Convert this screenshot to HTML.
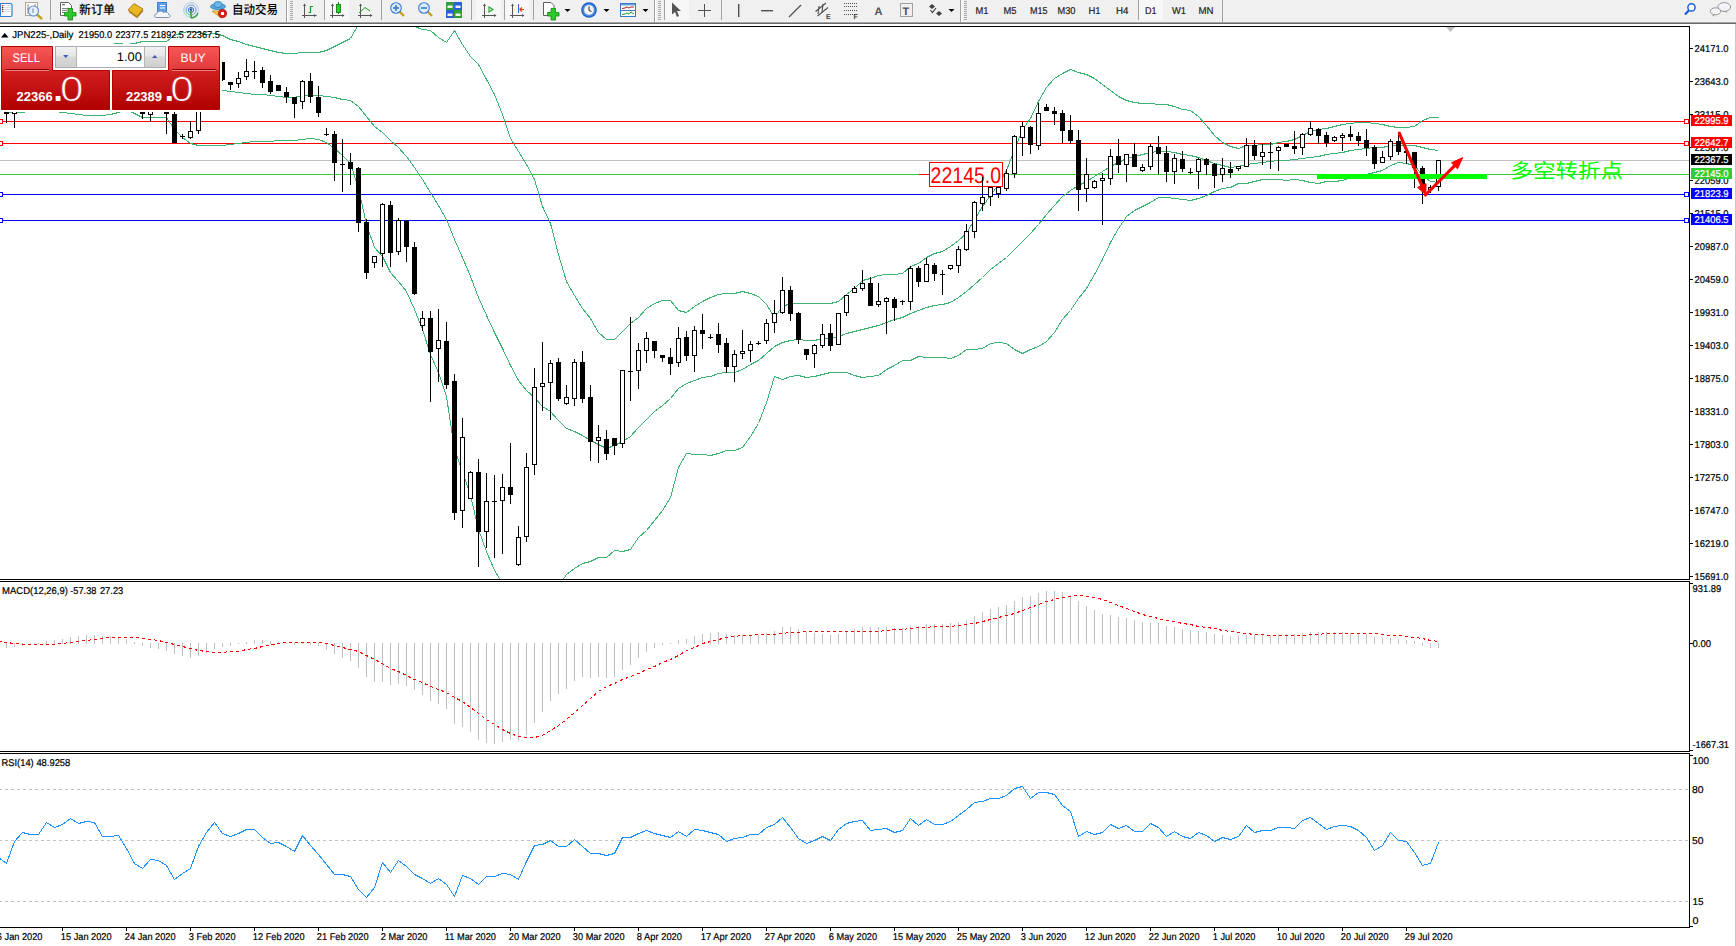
<!DOCTYPE html>
<html><head><meta charset="utf-8"><title>JPN225 Daily</title>
<style>
html,body{margin:0;padding:0;width:1736px;height:946px;overflow:hidden;background:#fff}
svg{display:block}
text{font-family:"Liberation Sans", "Noto Sans CJK SC", sans-serif}
</style></head><body>
<svg width="1736" height="946" viewBox="0 0 1736 946" text-rendering="geometricPrecision">
<defs><clipPath id="clipMain"><rect x="0" y="27" width="1689" height="552"/></clipPath></defs>
<rect x="0" y="0" width="1736" height="946" fill="#fff"/>
<rect x="0" y="0" width="1736" height="22" fill="#f0f0f0"/>
<rect x="0" y="21" width="1736" height="1" fill="#f6f6f6"/>
<rect x="0" y="22" width="1736" height="1" fill="#a2a2a2"/>
<rect x="0" y="23" width="1736" height="1" fill="#6c6c6c"/>
<rect x="-0.5" y="3.5" width="12.5" height="13" rx="1.5" fill="#fff" stroke="#3c7bc9" stroke-width="1.2"/>
<rect x="0" y="4" width="1" height="12" fill="#3c7bc9"/>
<circle cx="2.6" cy="5.5" r="0.8" fill="#ff2020"/>
<rect x="4" y="5.1" width="7.5" height="0.8" fill="#c8d8f0"/>
<circle cx="2.6" cy="7.5" r="0.8" fill="#202020"/>
<rect x="4" y="7.1" width="7.5" height="0.8" fill="#c8d8f0"/>
<circle cx="2.6" cy="9.5" r="0.8" fill="#202020"/>
<rect x="4" y="9.1" width="7.5" height="0.8" fill="#c8d8f0"/>
<circle cx="2.6" cy="11.5" r="0.8" fill="#ff2020"/>
<rect x="4" y="11.1" width="7.5" height="0.8" fill="#c8d8f0"/>
<rect x="25.5" y="2.5" width="12" height="13" fill="#fff" stroke="#b0a890" stroke-width="1"/>
<path d="M28,4 V14 M27,9 H31 M35,4 V10" stroke="#888" stroke-width="1" fill="none"/>
<line x1="37" y1="14.5" x2="42" y2="19" stroke="#c8a020" stroke-width="2.4"/>
<circle cx="33.5" cy="11" r="5" fill="#e8f4fc" fill-opacity="0.9" stroke="#5a90d8" stroke-width="1.1"/>
<rect x="32" y="8.5" width="2" height="4.5" fill="#a8b8c8"/>
<rect x="50" y="0" width="1" height="20" fill="#a0a0a0"/>
<path d="M60.5,2.5 H68.5 L71.5,5.5 V15.5 H60.5 Z" fill="#fff" stroke="#606060" stroke-width="1"/>
<rect x="62" y="4" width="3" height="1.3" fill="#707070"/><rect x="62" y="8" width="6" height="0.9" fill="#707070"/><rect x="62" y="10" width="5" height="0.9" fill="#707070"/><rect x="62" y="12" width="3" height="0.9" fill="#707070"/>
<path d="M68,8.5 H72.5 V12.5 H76 V16 H72.5 V20 H68 V16 H64.5 V12.5 H68 Z" fill="#2ec82e" stroke="#0a8a0a" stroke-width="0.8"/>
<text x="79" y="14" font-size="12.5" fill="#000" font-weight="500" font-family="'Liberation Sans', 'Noto Sans CJK SC', 'WenQuanYi Zen Hei', sans-serif" textLength="36" lengthAdjust="spacingAndGlyphs">新订单</text>
<path d="M128,10 L134,3.5 L143,9 L137,16.5 Z" fill="#e8b820" stroke="#9a6a10" stroke-width="0.8"/>
<path d="M129,11.5 L137,17.5 L143,10.5" fill="none" stroke="#b07818" stroke-width="1.2"/>
<rect x="157.5" y="2.5" width="9" height="10" fill="#5aa0e8" stroke="#2a70c0" stroke-width="0.8"/>
<rect x="160" y="5" width="5" height="1" fill="#fff"/><rect x="160" y="7.5" width="5" height="1" fill="#fff"/>
<path d="M156,17.5 C154,17.5 154,13.5 157,13.5 C157.5,10.5 162.5,10.5 163.5,12.5 C165.5,11 169,12.5 168.5,14.5 C171,15 170.5,17.5 168.5,17.5 Z" fill="#f4f6fa" stroke="#7088b0" stroke-width="0.9"/>
<circle cx="191" cy="10" r="7.3" fill="none" stroke="#a8c8e8" stroke-width="1"/>
<circle cx="191" cy="10" r="5" fill="none" stroke="#6a9ad8" stroke-width="1"/>
<circle cx="191" cy="10" r="2.6" fill="none" stroke="#3a6ac8" stroke-width="1"/>
<path d="M191,10 V18 M191,18 A8,8 0 0 0 198,13" stroke="#30a030" stroke-width="1.4" fill="none"/>
<circle cx="191" cy="9.5" r="1.3" fill="#2a5ac0"/>
<path d="M212,11 L221,18 L226,11 Z" fill="#f0d040" stroke="#b09020" stroke-width="0.8"/>
<ellipse cx="218" cy="6.5" rx="7.5" ry="3" fill="#58a8e0" stroke="#2a78b8" stroke-width="0.8"/>
<ellipse cx="218" cy="4.5" rx="4" ry="3" fill="#70b8ea" stroke="#2a78b8" stroke-width="0.8"/>
<circle cx="222.5" cy="13.5" r="4.2" fill="#d82020" stroke="#a01010" stroke-width="0.6"/>
<rect x="221" y="12" width="3" height="3" fill="#fff"/>
<text x="232" y="14" font-size="12.5" fill="#000" font-weight="500" font-family="'Liberation Sans', 'Noto Sans CJK SC', 'WenQuanYi Zen Hei', sans-serif" textLength="46" lengthAdjust="spacingAndGlyphs">自动交易</text>
<rect x="286" y="0" width="1" height="22" fill="#a0a0a0"/><rect x="287" y="0" width="1" height="22" fill="#ffffff"/>
<rect x="290" y="1" width="3" height="1" fill="#a8a8a8"/><rect x="290" y="3" width="3" height="1" fill="#a8a8a8"/><rect x="290" y="5" width="3" height="1" fill="#a8a8a8"/><rect x="290" y="7" width="3" height="1" fill="#a8a8a8"/><rect x="290" y="9" width="3" height="1" fill="#a8a8a8"/><rect x="290" y="11" width="3" height="1" fill="#a8a8a8"/><rect x="290" y="13" width="3" height="1" fill="#a8a8a8"/><rect x="290" y="15" width="3" height="1" fill="#a8a8a8"/><rect x="290" y="17" width="3" height="1" fill="#a8a8a8"/><rect x="290" y="19" width="3" height="1" fill="#a8a8a8"/>
<path d="M304.5,4 V18 M302,15.5 H316" stroke="#555" stroke-width="1" fill="none"/>
<path d="M314.5,15.5 L316.5,15.5" stroke="#555"/>
<polygon points="304.5,3.5 303,6 306,6" fill="#555"/><polygon points="316.5,15.5 314,14 314,17" fill="#555"/>
<path d="M310.5,6 V13 M310.5,6.5 H313 M308.5,12.5 H310.5" stroke="#1a9a1a" stroke-width="1.2" fill="none"/>
<rect x="324" y="0" width="1" height="20" fill="#a0a0a0"/>
<rect x="325" y="0" width="24" height="20" fill="#f7f7f7"/>
<path d="M332.5,4 V18 M330,15.5 H344" stroke="#555" stroke-width="1" fill="none"/>
<polygon points="332.5,3.5 331,6 334,6" fill="#555"/><polygon points="344.5,15.5 342,14 342,17" fill="#555"/>
<rect x="336.5" y="4.5" width="4" height="8" fill="#30d030" stroke="#108010" stroke-width="0.9"/>
<path d="M338.5,2 V4.5 M338.5,12.5 V14" stroke="#108010" stroke-width="1"/>
<path d="M360.5,4 V18 M358,15.5 H372" stroke="#555" stroke-width="1" fill="none"/>
<polygon points="360.5,3.5 359,6 362,6" fill="#555"/><polygon points="372.5,15.5 370,14 370,17" fill="#555"/>
<path d="M359,13 L365,7.5 L370,11" stroke="#20a020" stroke-width="1" fill="none"/>
<rect x="381" y="0" width="1" height="20" fill="#a0a0a0"/>
<line x1="399.5" y1="11.5" x2="404" y2="16" stroke="#c8a020" stroke-width="2.4"/>
<circle cx="396" cy="8" r="5.3" fill="#dcecfa" stroke="#3a78d0" stroke-width="1.1"/>
<rect x="393" y="7.2" width="6" height="1.6" fill="#3a78c0"/>
<rect x="395.2" y="5" width="1.6" height="6" fill="#3a78c0"/>
<line x1="427.5" y1="11.5" x2="432" y2="16" stroke="#c8a020" stroke-width="2.4"/>
<circle cx="424" cy="8" r="5.3" fill="#dcecfa" stroke="#3a78d0" stroke-width="1.1"/>
<rect x="421" y="7.2" width="6" height="1.6" fill="#3a78c0"/>
<rect x="446" y="2" width="8" height="8" fill="#30a030"/>
<rect x="447.5" y="5.5" width="5" height="2.5" fill="#f0f0f0"/>
<rect x="454" y="2" width="8" height="8" fill="#2a60d0"/>
<rect x="455.5" y="5.5" width="5" height="2.5" fill="#f0f0f0"/>
<rect x="446" y="10" width="8" height="8" fill="#2a60d0"/>
<rect x="447.5" y="13.5" width="5" height="2.5" fill="#f0f0f0"/>
<rect x="454" y="10" width="8" height="8" fill="#30a030"/>
<rect x="455.5" y="13.5" width="5" height="2.5" fill="#f0f0f0"/>
<rect x="471" y="0" width="1" height="20" fill="#a0a0a0"/>
<rect x="476" y="0" width="25" height="20" fill="#f7f7f7"/>
<path d="M484.5,4 V18 M482,15.5 H496" stroke="#555" stroke-width="1" fill="none"/>
<polygon points="484.5,3.5 483,6 486,6" fill="#555"/><polygon points="496.5,15.5 494,14 494,17" fill="#555"/>
<polygon points="489,7 493,9.5 489,12" fill="none" stroke="#20a020" stroke-width="1.1"/>
<rect x="504" y="0" width="1" height="20" fill="#a0a0a0"/>
<rect x="505" y="0" width="24" height="20" fill="#f7f7f7"/>
<path d="M512.5,4 V18 M510,15.5 H524" stroke="#555" stroke-width="1" fill="none"/>
<polygon points="512.5,3.5 511,6 514,6" fill="#555"/><polygon points="524.5,15.5 522,14 522,17" fill="#555"/>
<rect x="518" y="4" width="1" height="9" fill="#2a70c0"/>
<path d="M519.5,9.5 H524 M519.5,9.5 L522,7.5 M519.5,9.5 L522,11.5" stroke="#e04010" stroke-width="1.2" fill="none"/>
<rect x="533" y="0" width="1" height="20" fill="#a0a0a0"/>
<path d="M543.5,2.5 H551 L554,5.5 V15.5 H543.5 Z" fill="#fff" stroke="#606060" stroke-width="1"/>
<path d="M551,8.5 H555.5 V12.5 H559 V16 H555.5 V20 H551 V16 H547.5 V12.5 H551 Z" fill="#2ec82e" stroke="#0a8a0a" stroke-width="0.8"/>
<polygon points="564.5,9 570.5,9 567.5,12" fill="#000"/>
<circle cx="589" cy="10" r="7.8" fill="#1a5cc4"/>
<circle cx="589" cy="10" r="6.6" fill="#3f8ae6"/>
<circle cx="589" cy="10" r="5.0" fill="#f6f6f6" stroke="#9ab" stroke-width="0.4"/>
<path d="M589,6.5 V10.5 L591.5,11.5" stroke="#222" stroke-width="1" fill="none"/>
<polygon points="603.5,9 609.5,9 606.5,12" fill="#000"/>
<rect x="620.5" y="3.5" width="15" height="13" fill="#fff" stroke="#3a78c8" stroke-width="1"/>
<rect x="621" y="4" width="14" height="1.5" fill="#6aa0e0"/><rect x="621" y="10" width="14" height="1" fill="#3a78c8"/>
<path d="M622,8.5 L625,8 L627,7 L629,8 L631,7 L634,7" stroke="#b02020" stroke-width="1" fill="none"/>
<path d="M622,14.5 L625,14 L627,13 L629,14 L631,12 L634,14" stroke="#20a020" stroke-width="1" fill="none"/>
<polygon points="642.5,9 648.5,9 645.5,12" fill="#000"/>
<rect x="654" y="0" width="1" height="22" fill="#a0a0a0"/><rect x="655" y="0" width="1" height="22" fill="#ffffff"/>
<rect x="658" y="1" width="3" height="1" fill="#a8a8a8"/><rect x="658" y="3" width="3" height="1" fill="#a8a8a8"/><rect x="658" y="5" width="3" height="1" fill="#a8a8a8"/><rect x="658" y="7" width="3" height="1" fill="#a8a8a8"/><rect x="658" y="9" width="3" height="1" fill="#a8a8a8"/><rect x="658" y="11" width="3" height="1" fill="#a8a8a8"/><rect x="658" y="13" width="3" height="1" fill="#a8a8a8"/><rect x="658" y="15" width="3" height="1" fill="#a8a8a8"/><rect x="658" y="17" width="3" height="1" fill="#a8a8a8"/><rect x="658" y="19" width="3" height="1" fill="#a8a8a8"/>
<rect x="664" y="0" width="1" height="20" fill="#a0a0a0"/>
<rect x="665" y="0" width="24" height="20" fill="#f7f7f7"/>
<polygon points="672,2.5 672,14.5 675,12 677,17 679,16 677,11 681,11" fill="#555"/>
<path d="M704.5,4 V17 M698,10.5 H711" stroke="#505050" stroke-width="1" fill="none"/>
<rect x="721" y="0" width="1" height="20" fill="#a0a0a0"/>
<rect x="738" y="4" width="1.4" height="13" fill="#505050"/>
<rect x="761" y="10" width="12" height="1.4" fill="#505050"/>
<line x1="789" y1="17" x2="801" y2="5" stroke="#505050" stroke-width="1.2"/>
<path d="M815.5,11.5 L826,3 M817.5,16 L828,7.5 M819,6 L818,14 M823,4 L822,12" stroke="#505050" stroke-width="1.1" fill="none"/>
<text x="826" y="19" font-size="7" font-weight="bold" fill="#404040">E</text>
<line x1="844" y1="3.5" x2="857" y2="3.5" stroke="#505050" stroke-width="1" stroke-dasharray="1,1"/>
<line x1="844" y1="6.5" x2="857" y2="6.5" stroke="#505050" stroke-width="1" stroke-dasharray="1,1"/>
<line x1="844" y1="10.5" x2="857" y2="10.5" stroke="#505050" stroke-width="1" stroke-dasharray="1,1"/>
<line x1="844" y1="14.5" x2="857" y2="14.5" stroke="#505050" stroke-width="1" stroke-dasharray="1,1"/>
<text x="853.5" y="19" font-size="7" font-weight="bold" fill="#404040">F</text>
<text x="874.5" y="14.5" font-size="11" font-weight="bold" fill="#505050">A</text>
<rect x="900.5" y="3.5" width="12" height="13" fill="none" stroke="#505050" stroke-width="1" stroke-dasharray="1,1"/>
<text x="902.5" y="14.5" font-size="11" font-weight="bold" fill="#505050">T</text>
<polygon points="932,4 935,6.5 932,9 929,6.5" fill="#404040"/><polygon points="939,11 942,13.5 939,16 936,13.5" fill="#404040"/>
<path d="M930.5,10 L932.5,12.5 L936,8" stroke="#404040" stroke-width="1.2" fill="none"/>
<polygon points="948.5,9 954.5,9 951.5,12" fill="#000"/>
<rect x="960" y="0" width="1" height="22" fill="#a0a0a0"/><rect x="961" y="0" width="1" height="22" fill="#ffffff"/>
<rect x="964" y="1" width="3" height="1" fill="#a8a8a8"/><rect x="964" y="3" width="3" height="1" fill="#a8a8a8"/><rect x="964" y="5" width="3" height="1" fill="#a8a8a8"/><rect x="964" y="7" width="3" height="1" fill="#a8a8a8"/><rect x="964" y="9" width="3" height="1" fill="#a8a8a8"/><rect x="964" y="11" width="3" height="1" fill="#a8a8a8"/><rect x="964" y="13" width="3" height="1" fill="#a8a8a8"/><rect x="964" y="15" width="3" height="1" fill="#a8a8a8"/><rect x="964" y="17" width="3" height="1" fill="#a8a8a8"/><rect x="964" y="19" width="3" height="1" fill="#a8a8a8"/>
<rect x="1139" y="0" width="24" height="20" fill="#f7f7f7"/>
<rect x="1138" y="0" width="1" height="20" fill="#a0a0a0"/>
<text x="975.5" y="14" font-size="10" fill="#222" stroke="#222" stroke-width="0.2" textLength="13.0" lengthAdjust="spacingAndGlyphs">M1</text>
<text x="1003.5" y="14" font-size="10" fill="#222" stroke="#222" stroke-width="0.2" textLength="13.0" lengthAdjust="spacingAndGlyphs">M5</text>
<text x="1030" y="14" font-size="10" fill="#222" stroke="#222" stroke-width="0.2" textLength="17.5" lengthAdjust="spacingAndGlyphs">M15</text>
<text x="1057.5" y="14" font-size="10" fill="#222" stroke="#222" stroke-width="0.2" textLength="18.0" lengthAdjust="spacingAndGlyphs">M30</text>
<text x="1088.5" y="14" font-size="10" fill="#222" stroke="#222" stroke-width="0.2" textLength="12.0" lengthAdjust="spacingAndGlyphs">H1</text>
<text x="1116" y="14" font-size="10" fill="#222" stroke="#222" stroke-width="0.2" textLength="12.5" lengthAdjust="spacingAndGlyphs">H4</text>
<text x="1145" y="14" font-size="10" fill="#222" stroke="#222" stroke-width="0.2" textLength="11.5" lengthAdjust="spacingAndGlyphs">D1</text>
<text x="1172" y="14" font-size="10" fill="#222" stroke="#222" stroke-width="0.2" textLength="14.0" lengthAdjust="spacingAndGlyphs">W1</text>
<text x="1198.5" y="14" font-size="10" fill="#222" stroke="#222" stroke-width="0.2" textLength="15.0" lengthAdjust="spacingAndGlyphs">MN</text>
<rect x="1222" y="0" width="1" height="22" fill="#a0a0a0"/>
<circle cx="1691.5" cy="7.4" r="3.6" fill="#fff" stroke="#1d5fd8" stroke-width="1.5"/>
<line x1="1689" y1="10.2" x2="1685" y2="14.5" stroke="#1d5fd8" stroke-width="2.2"/>
<ellipse cx="1724.2" cy="7" rx="6.4" ry="4.4" fill="#f4f4f8" stroke="#8a8a8a" stroke-width="0.9"/>
<path d="M1726,11 L1727,13 L1724,11.3" fill="#8a8a8a"/>
<ellipse cx="1715.5" cy="11.3" rx="5.2" ry="3.5" fill="#f4f4f8" stroke="#8a8a8a" stroke-width="0.9"/>
<path d="M1713,14.5 L1712.5,16.5 L1715,14.7" fill="#8a8a8a"/>
<rect x="1735" y="24" width="1" height="922" fill="#c8c8c8"/>
<g shape-rendering="crispEdges"><rect x="0" y="160" width="1689" height="1" fill="#c0c0c0"/><rect x="0" y="174" width="1689" height="1" fill="#33cc33"/><rect x="0" y="121" width="1689" height="1" fill="#ff0000"/><rect x="0" y="143" width="1689" height="1" fill="#ff0000"/><rect x="0" y="194" width="1689" height="1" fill="#0000ff"/><rect x="0" y="220" width="1689" height="1" fill="#0000ff"/><rect x="-1.5" y="119.5" width="4" height="4" fill="#fff" stroke="#ff0000" stroke-width="1"/><rect x="1684.5" y="119.5" width="4" height="4" fill="#fff" stroke="#ff0000" stroke-width="1"/><rect x="-1.5" y="141.5" width="4" height="4" fill="#fff" stroke="#ff0000" stroke-width="1"/><rect x="1684.5" y="141.5" width="4" height="4" fill="#fff" stroke="#ff0000" stroke-width="1"/><rect x="-1.5" y="192.5" width="4" height="4" fill="#fff" stroke="#0000ff" stroke-width="1"/><rect x="1684.5" y="192.5" width="4" height="4" fill="#fff" stroke="#0000ff" stroke-width="1"/><rect x="-1.5" y="218.5" width="4" height="4" fill="#fff" stroke="#0000ff" stroke-width="1"/><rect x="1684.5" y="218.5" width="4" height="4" fill="#fff" stroke="#0000ff" stroke-width="1"/><rect x="919" y="174" width="10" height="1" fill="#ff0000"/><g clip-path="url(#clipMain)"><polyline points="6.5,56.5 14.5,59.5 22.5,59.5 30.5,58.5 38.5,59.5 46.5,56.5 54.5,55.5 62.5,54.5 70.5,50.5 78.5,48.5 86.5,47.5 94.5,45.5 102.5,45.5 110.5,44.5 118.5,43.5 126.5,44.5 134.5,43.5 142.5,41.5 150.5,41.5 158.5,41.5 166.5,41.5 174.5,35.5 182.5,32.5 190.5,31.5 198.5,32.5 206.5,34.5 214.5,33.5 222.5,35.5 230.5,39.5 238.5,41.5 246.5,44.5 254.5,46.5 262.5,48.5 270.5,50.5 278.5,52.5 286.5,53.5 294.5,53.5 302.5,52.5 310.5,52.5 318.5,52.5 326.5,50.5 334.5,46.5 342.5,42.5 350.5,38.5 358.5,24.5 366.5,8.5 374.5,4.5 382.5,8.5 390.5,8.5 398.5,14.5 406.5,21.5 414.5,26.5 422.5,29.5 430.5,30.5 438.5,37.5 446.5,42.5 454.5,30.5 462.5,44.5 470.5,56.5 478.5,64.5 486.5,79.5 494.5,94.5 502.5,114.5 510.5,138.5 518.5,151.5 526.5,164.5 534.5,179.5 542.5,206.5 550.5,223.5 558.5,254.5 566.5,281.5 574.5,295.5 582.5,308.5 590.5,318.5 598.5,332.5 606.5,339.5 614.5,339.5 622.5,331.5 630.5,323.5 638.5,317.5 646.5,308.5 654.5,303.5 662.5,300.5 670.5,300.5 678.5,310.5 686.5,312.5 694.5,306.5 702.5,301.5 710.5,297.5 718.5,294.5 726.5,293.5 734.5,293.5 742.5,291.5 750.5,293.5 758.5,296.5 766.5,304.5 774.5,317.5 782.5,306.5 790.5,303.5 798.5,303.5 806.5,303.5 814.5,303.5 822.5,303.5 830.5,303.5 838.5,301.5 846.5,294.5 854.5,288.5 862.5,280.5 870.5,278.5 878.5,275.5 886.5,274.5 894.5,274.5 902.5,273.5 910.5,266.5 918.5,263.5 926.5,257.5 934.5,253.5 942.5,251.5 950.5,246.5 958.5,240.5 966.5,233.5 974.5,219.5 982.5,206.5 990.5,195.5 998.5,184.5 1006.5,170.5 1014.5,149.5 1022.5,129.5 1030.5,118.5 1038.5,101.5 1046.5,87.5 1054.5,78.5 1062.5,73.5 1070.5,69.5 1078.5,72.5 1086.5,74.5 1094.5,78.5 1102.5,84.5 1110.5,90.5 1118.5,96.5 1126.5,100.5 1134.5,102.5 1142.5,103.5 1150.5,103.5 1158.5,104.5 1166.5,104.5 1174.5,106.5 1182.5,109.5 1190.5,110.5 1198.5,116.5 1206.5,125.5 1214.5,135.5 1222.5,142.5 1230.5,146.5 1238.5,148.5 1246.5,145.5 1254.5,145.5 1262.5,144.5 1270.5,144.5 1278.5,142.5 1286.5,141.5 1294.5,139.5 1302.5,135.5 1310.5,131.5 1318.5,129.5 1326.5,128.5 1334.5,126.5 1342.5,124.5 1350.5,123.5 1358.5,122.5 1366.5,122.5 1374.5,123.5 1382.5,124.5 1390.5,126.5 1398.5,127.5 1406.5,127.5 1414.5,126.5 1422.5,120.5 1430.5,117.5 1438.5,117.5" fill="none" stroke="#3cb371" stroke-width="1"/><polyline points="6.5,84.5 14.5,85.5 22.5,85.5 30.5,84.5 38.5,84.5 46.5,84.5 54.5,83.5 62.5,83.5 70.5,82.5 78.5,81.5 86.5,81.5 94.5,80.5 102.5,80.5 110.5,79.5 118.5,78.5 126.5,77.5 134.5,78.5 142.5,79.5 150.5,79.5 158.5,79.5 166.5,79.5 174.5,82.5 182.5,85.5 190.5,87.5 198.5,88.5 206.5,89.5 214.5,89.5 222.5,90.5 230.5,91.5 238.5,92.5 246.5,93.5 254.5,94.5 262.5,94.5 270.5,95.5 278.5,96.5 286.5,97.5 294.5,97.5 302.5,95.5 310.5,95.5 318.5,95.5 326.5,96.5 334.5,97.5 342.5,99.5 350.5,100.5 358.5,106.5 366.5,116.5 374.5,126.5 382.5,132.5 390.5,140.5 398.5,147.5 406.5,156.5 414.5,167.5 422.5,179.5 430.5,192.5 438.5,205.5 446.5,219.5 454.5,239.5 462.5,257.5 470.5,276.5 478.5,297.5 486.5,315.5 494.5,332.5 502.5,348.5 510.5,365.5 518.5,380.5 526.5,390.5 534.5,397.5 542.5,406.5 550.5,411.5 558.5,420.5 566.5,428.5 574.5,431.5 582.5,435.5 590.5,440.5 598.5,444.5 606.5,448.5 614.5,445.5 622.5,441.5 630.5,436.5 638.5,427.5 646.5,419.5 654.5,411.5 662.5,405.5 670.5,398.5 678.5,388.5 686.5,383.5 694.5,380.5 702.5,377.5 710.5,376.5 718.5,373.5 726.5,372.5 734.5,372.5 742.5,369.5 750.5,364.5 758.5,360.5 766.5,353.5 774.5,346.5 782.5,342.5 790.5,340.5 798.5,339.5 806.5,340.5 814.5,340.5 822.5,338.5 830.5,338.5 838.5,336.5 846.5,333.5 854.5,331.5 862.5,329.5 870.5,327.5 878.5,325.5 886.5,322.5 894.5,319.5 902.5,317.5 910.5,313.5 918.5,310.5 926.5,307.5 934.5,305.5 942.5,304.5 950.5,302.5 958.5,297.5 966.5,291.5 974.5,284.5 982.5,277.5 990.5,269.5 998.5,263.5 1006.5,257.5 1014.5,249.5 1022.5,241.5 1030.5,233.5 1038.5,224.5 1046.5,214.5 1054.5,205.5 1062.5,196.5 1070.5,190.5 1078.5,185.5 1086.5,181.5 1094.5,176.5 1102.5,171.5 1110.5,166.5 1118.5,162.5 1126.5,158.5 1134.5,156.5 1142.5,154.5 1150.5,152.5 1158.5,151.5 1166.5,151.5 1174.5,152.5 1182.5,154.5 1190.5,155.5 1198.5,157.5 1206.5,160.5 1214.5,163.5 1222.5,165.5 1230.5,167.5 1238.5,166.5 1246.5,164.5 1254.5,163.5 1262.5,162.5 1270.5,161.5 1278.5,160.5 1286.5,160.5 1294.5,159.5 1302.5,158.5 1310.5,157.5 1318.5,156.5 1326.5,154.5 1334.5,153.5 1342.5,152.5 1350.5,150.5 1358.5,149.5 1366.5,148.5 1374.5,147.5 1382.5,147.5 1390.5,145.5 1398.5,145.5 1406.5,145.5 1414.5,145.5 1422.5,147.5 1430.5,149.5 1438.5,150.5" fill="none" stroke="#3cb371" stroke-width="1"/><polyline points="6.5,112.5 14.5,112.5 22.5,112.5 30.5,110.5 38.5,110.5 46.5,111.5 54.5,111.5 62.5,112.5 70.5,113.5 78.5,114.5 86.5,115.5 94.5,115.5 102.5,115.5 110.5,114.5 118.5,112.5 126.5,109.5 134.5,113.5 142.5,117.5 150.5,117.5 158.5,117.5 166.5,117.5 174.5,129.5 182.5,137.5 190.5,143.5 198.5,145.5 206.5,145.5 214.5,145.5 222.5,145.5 230.5,144.5 238.5,143.5 246.5,142.5 254.5,141.5 262.5,141.5 270.5,141.5 278.5,140.5 286.5,140.5 294.5,140.5 302.5,139.5 310.5,138.5 318.5,139.5 326.5,142.5 334.5,148.5 342.5,155.5 350.5,163.5 358.5,188.5 366.5,224.5 374.5,247.5 382.5,256.5 390.5,272.5 398.5,281.5 406.5,291.5 414.5,309.5 422.5,329.5 430.5,354.5 438.5,372.5 446.5,396.5 454.5,449.5 462.5,471.5 470.5,495.5 478.5,529.5 486.5,551.5 494.5,570.5 502.5,583.5 510.5,592.5 518.5,609.5 526.5,616.5 534.5,614.5 542.5,605.5 550.5,599.5 558.5,586.5 566.5,574.5 574.5,568.5 582.5,563.5 590.5,561.5 598.5,557.5 606.5,557.5 614.5,550.5 622.5,551.5 630.5,549.5 638.5,537.5 646.5,530.5 654.5,520.5 662.5,510.5 670.5,497.5 678.5,467.5 686.5,453.5 694.5,454.5 702.5,454.5 710.5,455.5 718.5,453.5 726.5,450.5 734.5,450.5 742.5,447.5 750.5,436.5 758.5,423.5 766.5,402.5 774.5,376.5 782.5,379.5 790.5,376.5 798.5,375.5 806.5,377.5 814.5,376.5 822.5,374.5 830.5,372.5 838.5,372.5 846.5,372.5 854.5,375.5 862.5,377.5 870.5,376.5 878.5,375.5 886.5,369.5 894.5,365.5 902.5,360.5 910.5,360.5 918.5,356.5 926.5,357.5 934.5,357.5 942.5,357.5 950.5,358.5 958.5,355.5 966.5,349.5 974.5,349.5 982.5,348.5 990.5,343.5 998.5,342.5 1006.5,343.5 1014.5,349.5 1022.5,353.5 1030.5,349.5 1038.5,346.5 1046.5,341.5 1054.5,332.5 1062.5,319.5 1070.5,310.5 1078.5,298.5 1086.5,288.5 1094.5,274.5 1102.5,259.5 1110.5,242.5 1118.5,228.5 1126.5,216.5 1134.5,210.5 1142.5,206.5 1150.5,202.5 1158.5,197.5 1166.5,197.5 1174.5,198.5 1182.5,199.5 1190.5,200.5 1198.5,198.5 1206.5,195.5 1214.5,191.5 1222.5,188.5 1230.5,187.5 1238.5,183.5 1246.5,183.5 1254.5,181.5 1262.5,179.5 1270.5,179.5 1278.5,179.5 1286.5,180.5 1294.5,179.5 1302.5,180.5 1310.5,182.5 1318.5,183.5 1326.5,181.5 1334.5,181.5 1342.5,180.5 1350.5,177.5 1358.5,176.5 1366.5,174.5 1374.5,172.5 1382.5,170.5 1390.5,165.5 1398.5,162.5 1406.5,163.5 1414.5,165.5 1422.5,175.5 1430.5,181.5 1438.5,182.5" fill="none" stroke="#3cb371" stroke-width="1"/></g><rect x="929.5" y="162.5" width="73" height="24" fill="#fff" stroke="#ff0000" stroke-width="1"/><text x="930.6" y="183" font-size="22.4" fill="#ff0000" textLength="70.5" lengthAdjust="spacingAndGlyphs">22145.0</text><rect x="6" y="100" width="1" height="23" fill="#000"/><rect x="4" y="105" width="5" height="9" fill="#000"/><rect x="14" y="86" width="1" height="42" fill="#000"/><rect x="12" y="90" width="5" height="24" fill="#000"/><rect x="13" y="91" width="3" height="22" fill="#fff"/><rect x="22" y="74" width="1" height="19" fill="#000"/><rect x="20" y="77" width="5" height="14" fill="#000"/><rect x="21" y="78" width="3" height="12" fill="#fff"/><rect x="30" y="75" width="1" height="9" fill="#000"/><rect x="28" y="77" width="5" height="4" fill="#000"/><rect x="38" y="78" width="1" height="5" fill="#000"/><rect x="36" y="80" width="5" height="1" fill="#000"/><rect x="46" y="60" width="1" height="22" fill="#000"/><rect x="44" y="62" width="5" height="19" fill="#000"/><rect x="45" y="63" width="3" height="17" fill="#fff"/><rect x="54" y="60" width="1" height="11" fill="#000"/><rect x="52" y="62" width="5" height="7" fill="#000"/><rect x="62" y="62" width="1" height="9" fill="#000"/><rect x="60" y="64" width="5" height="5" fill="#000"/><rect x="61" y="65" width="3" height="3" fill="#fff"/><rect x="70" y="52" width="1" height="15" fill="#000"/><rect x="68" y="54" width="5" height="11" fill="#000"/><rect x="69" y="55" width="3" height="9" fill="#fff"/><rect x="78" y="53" width="1" height="9" fill="#000"/><rect x="76" y="54" width="5" height="6" fill="#000"/><rect x="86" y="55" width="1" height="6" fill="#000"/><rect x="84" y="57" width="5" height="3" fill="#000"/><rect x="85" y="58" width="3" height="1" fill="#fff"/><rect x="94" y="55" width="1" height="6" fill="#000"/><rect x="92" y="57" width="5" height="1" fill="#000"/><rect x="102" y="56" width="1" height="18" fill="#000"/><rect x="100" y="57" width="5" height="15" fill="#000"/><rect x="110" y="69" width="1" height="5" fill="#000"/><rect x="108" y="71" width="5" height="1" fill="#000"/><rect x="118" y="68" width="1" height="5" fill="#000"/><rect x="116" y="70" width="5" height="2" fill="#000"/><rect x="126" y="70" width="1" height="16" fill="#000"/><rect x="124" y="71" width="5" height="13" fill="#000"/><rect x="134" y="82" width="1" height="23" fill="#000"/><rect x="132" y="83" width="5" height="21" fill="#000"/><rect x="142" y="101" width="1" height="18" fill="#000"/><rect x="140" y="103" width="5" height="11" fill="#000"/><rect x="150" y="100" width="1" height="22" fill="#000"/><rect x="148" y="105" width="5" height="10" fill="#000"/><rect x="149" y="106" width="3" height="8" fill="#fff"/><rect x="158" y="102" width="1" height="6" fill="#000"/><rect x="156" y="105" width="5" height="1" fill="#000"/><rect x="166" y="103" width="1" height="31" fill="#000"/><rect x="164" y="105" width="5" height="9" fill="#000"/><rect x="174" y="110" width="1" height="33" fill="#000"/><rect x="172" y="114" width="5" height="29" fill="#000"/><rect x="182" y="134" width="1" height="5" fill="#000"/><rect x="180" y="136" width="5" height="1" fill="#000"/><rect x="190" y="121" width="1" height="18" fill="#000"/><rect x="188" y="131" width="5" height="7" fill="#000"/><rect x="189" y="132" width="3" height="5" fill="#fff"/><rect x="198" y="100" width="1" height="34" fill="#000"/><rect x="196" y="104" width="5" height="27" fill="#000"/><rect x="197" y="105" width="3" height="25" fill="#fff"/><rect x="206" y="78" width="1" height="28" fill="#000"/><rect x="204" y="80" width="5" height="24" fill="#000"/><rect x="205" y="81" width="3" height="22" fill="#fff"/><rect x="214" y="58" width="1" height="24" fill="#000"/><rect x="212" y="62" width="5" height="18" fill="#000"/><rect x="213" y="63" width="3" height="16" fill="#fff"/><rect x="222" y="62" width="1" height="19" fill="#000"/><rect x="220" y="62" width="5" height="18" fill="#000"/><rect x="230" y="82" width="1" height="8" fill="#000"/><rect x="228" y="82" width="5" height="3" fill="#000"/><rect x="238" y="72" width="1" height="16" fill="#000"/><rect x="236" y="78" width="5" height="6" fill="#000"/><rect x="237" y="79" width="3" height="4" fill="#fff"/><rect x="246" y="59" width="1" height="21" fill="#000"/><rect x="244" y="71" width="5" height="6" fill="#000"/><rect x="245" y="72" width="3" height="4" fill="#fff"/><rect x="254" y="61" width="1" height="18" fill="#000"/><rect x="252" y="71" width="5" height="1" fill="#000"/><rect x="262" y="67" width="1" height="21" fill="#000"/><rect x="260" y="70" width="5" height="13" fill="#000"/><rect x="270" y="75" width="1" height="19" fill="#000"/><rect x="268" y="81" width="5" height="11" fill="#000"/><rect x="278" y="85" width="1" height="6" fill="#000"/><rect x="276" y="85" width="5" height="6" fill="#000"/><rect x="286" y="87" width="1" height="16" fill="#000"/><rect x="284" y="92" width="5" height="5" fill="#000"/><rect x="294" y="97" width="1" height="21" fill="#000"/><rect x="292" y="97" width="5" height="7" fill="#000"/><rect x="302" y="80" width="1" height="29" fill="#000"/><rect x="300" y="81" width="5" height="21" fill="#000"/><rect x="301" y="82" width="3" height="19" fill="#fff"/><rect x="310" y="73" width="1" height="30" fill="#000"/><rect x="308" y="81" width="5" height="16" fill="#000"/><rect x="318" y="86" width="1" height="31" fill="#000"/><rect x="316" y="97" width="5" height="16" fill="#000"/><rect x="326" y="128" width="1" height="8" fill="#000"/><rect x="324" y="134" width="5" height="1" fill="#000"/><rect x="334" y="131" width="1" height="50" fill="#000"/><rect x="332" y="134" width="5" height="29" fill="#000"/><rect x="342" y="139" width="1" height="53" fill="#000"/><rect x="340" y="164" width="5" height="1" fill="#000"/><rect x="350" y="153" width="1" height="32" fill="#000"/><rect x="348" y="162" width="5" height="7" fill="#000"/><rect x="358" y="167" width="1" height="65" fill="#000"/><rect x="356" y="168" width="5" height="55" fill="#000"/><rect x="366" y="219" width="1" height="60" fill="#000"/><rect x="364" y="222" width="5" height="51" fill="#000"/><rect x="374" y="256" width="1" height="12" fill="#000"/><rect x="372" y="256" width="5" height="7" fill="#000"/><rect x="373" y="257" width="3" height="5" fill="#fff"/><rect x="382" y="203" width="1" height="64" fill="#000"/><rect x="380" y="204" width="5" height="50" fill="#000"/><rect x="381" y="205" width="3" height="48" fill="#fff"/><rect x="390" y="201" width="1" height="66" fill="#000"/><rect x="388" y="205" width="5" height="48" fill="#000"/><rect x="398" y="218" width="1" height="37" fill="#000"/><rect x="396" y="220" width="5" height="32" fill="#000"/><rect x="397" y="221" width="3" height="30" fill="#fff"/><rect x="406" y="220" width="1" height="42" fill="#000"/><rect x="404" y="221" width="5" height="26" fill="#000"/><rect x="414" y="242" width="1" height="53" fill="#000"/><rect x="412" y="247" width="5" height="47" fill="#000"/><rect x="422" y="311" width="1" height="20" fill="#000"/><rect x="420" y="318" width="5" height="8" fill="#000"/><rect x="421" y="319" width="3" height="6" fill="#fff"/><rect x="430" y="311" width="1" height="91" fill="#000"/><rect x="428" y="318" width="5" height="34" fill="#000"/><rect x="438" y="309" width="1" height="73" fill="#000"/><rect x="436" y="340" width="5" height="9" fill="#000"/><rect x="437" y="341" width="3" height="7" fill="#fff"/><rect x="446" y="322" width="1" height="67" fill="#000"/><rect x="444" y="341" width="5" height="44" fill="#000"/><rect x="454" y="374" width="1" height="146" fill="#000"/><rect x="452" y="381" width="5" height="132" fill="#000"/><rect x="462" y="418" width="1" height="110" fill="#000"/><rect x="460" y="437" width="5" height="74" fill="#000"/><rect x="461" y="438" width="3" height="72" fill="#fff"/><rect x="470" y="471" width="1" height="28" fill="#000"/><rect x="468" y="472" width="5" height="27" fill="#000"/><rect x="469" y="473" width="3" height="25" fill="#fff"/><rect x="478" y="459" width="1" height="108" fill="#000"/><rect x="476" y="472" width="5" height="60" fill="#000"/><rect x="486" y="473" width="1" height="75" fill="#000"/><rect x="484" y="501" width="5" height="31" fill="#000"/><rect x="485" y="502" width="3" height="29" fill="#fff"/><rect x="494" y="475" width="1" height="83" fill="#000"/><rect x="492" y="501" width="5" height="1" fill="#000"/><rect x="502" y="474" width="1" height="80" fill="#000"/><rect x="500" y="487" width="5" height="14" fill="#000"/><rect x="501" y="488" width="3" height="12" fill="#fff"/><rect x="510" y="443" width="1" height="61" fill="#000"/><rect x="508" y="487" width="5" height="8" fill="#000"/><rect x="518" y="526" width="1" height="40" fill="#000"/><rect x="516" y="537" width="5" height="28" fill="#000"/><rect x="517" y="538" width="3" height="26" fill="#fff"/><rect x="526" y="453" width="1" height="89" fill="#000"/><rect x="524" y="467" width="5" height="70" fill="#000"/><rect x="525" y="468" width="3" height="68" fill="#fff"/><rect x="534" y="368" width="1" height="107" fill="#000"/><rect x="532" y="387" width="5" height="78" fill="#000"/><rect x="533" y="388" width="3" height="76" fill="#fff"/><rect x="542" y="342" width="1" height="69" fill="#000"/><rect x="540" y="383" width="5" height="4" fill="#000"/><rect x="541" y="384" width="3" height="2" fill="#fff"/><rect x="550" y="360" width="1" height="60" fill="#000"/><rect x="548" y="363" width="5" height="20" fill="#000"/><rect x="549" y="364" width="3" height="18" fill="#fff"/><rect x="558" y="358" width="1" height="43" fill="#000"/><rect x="556" y="362" width="5" height="37" fill="#000"/><rect x="566" y="385" width="1" height="20" fill="#000"/><rect x="564" y="397" width="5" height="7" fill="#000"/><rect x="565" y="398" width="3" height="5" fill="#fff"/><rect x="574" y="359" width="1" height="47" fill="#000"/><rect x="572" y="362" width="5" height="37" fill="#000"/><rect x="573" y="363" width="3" height="35" fill="#fff"/><rect x="582" y="351" width="1" height="52" fill="#000"/><rect x="580" y="362" width="5" height="37" fill="#000"/><rect x="590" y="385" width="1" height="76" fill="#000"/><rect x="588" y="397" width="5" height="45" fill="#000"/><rect x="598" y="425" width="1" height="38" fill="#000"/><rect x="596" y="437" width="5" height="4" fill="#000"/><rect x="597" y="438" width="3" height="2" fill="#fff"/><rect x="606" y="430" width="1" height="30" fill="#000"/><rect x="604" y="439" width="5" height="15" fill="#000"/><rect x="614" y="438" width="1" height="17" fill="#000"/><rect x="612" y="438" width="5" height="8" fill="#000"/><rect x="622" y="370" width="1" height="78" fill="#000"/><rect x="620" y="370" width="5" height="74" fill="#000"/><rect x="621" y="371" width="3" height="72" fill="#fff"/><rect x="630" y="317" width="1" height="84" fill="#000"/><rect x="628" y="371" width="5" height="1" fill="#000"/><rect x="638" y="343" width="1" height="46" fill="#000"/><rect x="636" y="350" width="5" height="21" fill="#000"/><rect x="637" y="351" width="3" height="19" fill="#fff"/><rect x="646" y="332" width="1" height="31" fill="#000"/><rect x="644" y="338" width="5" height="13" fill="#000"/><rect x="645" y="339" width="3" height="11" fill="#fff"/><rect x="654" y="341" width="1" height="17" fill="#000"/><rect x="652" y="341" width="5" height="10" fill="#000"/><rect x="662" y="355" width="1" height="7" fill="#000"/><rect x="660" y="355" width="5" height="3" fill="#000"/><rect x="670" y="348" width="1" height="27" fill="#000"/><rect x="668" y="357" width="5" height="7" fill="#000"/><rect x="678" y="327" width="1" height="40" fill="#000"/><rect x="676" y="338" width="5" height="25" fill="#000"/><rect x="677" y="339" width="3" height="23" fill="#fff"/><rect x="686" y="331" width="1" height="30" fill="#000"/><rect x="684" y="337" width="5" height="19" fill="#000"/><rect x="694" y="326" width="1" height="46" fill="#000"/><rect x="692" y="330" width="5" height="26" fill="#000"/><rect x="693" y="331" width="3" height="24" fill="#fff"/><rect x="702" y="314" width="1" height="35" fill="#000"/><rect x="700" y="330" width="5" height="4" fill="#000"/><rect x="710" y="334" width="1" height="5" fill="#000"/><rect x="708" y="337" width="5" height="1" fill="#000"/><rect x="718" y="323" width="1" height="30" fill="#000"/><rect x="716" y="334" width="5" height="11" fill="#000"/><rect x="726" y="338" width="1" height="35" fill="#000"/><rect x="724" y="343" width="5" height="24" fill="#000"/><rect x="734" y="350" width="1" height="32" fill="#000"/><rect x="732" y="354" width="5" height="13" fill="#000"/><rect x="733" y="355" width="3" height="11" fill="#fff"/><rect x="742" y="330" width="1" height="29" fill="#000"/><rect x="740" y="351" width="5" height="3" fill="#000"/><rect x="741" y="352" width="3" height="1" fill="#fff"/><rect x="750" y="341" width="1" height="21" fill="#000"/><rect x="748" y="344" width="5" height="7" fill="#000"/><rect x="749" y="345" width="3" height="5" fill="#fff"/><rect x="758" y="341" width="1" height="4" fill="#000"/><rect x="756" y="343" width="5" height="1" fill="#000"/><rect x="766" y="319" width="1" height="25" fill="#000"/><rect x="764" y="323" width="5" height="18" fill="#000"/><rect x="765" y="324" width="3" height="16" fill="#fff"/><rect x="774" y="300" width="1" height="33" fill="#000"/><rect x="772" y="313" width="5" height="10" fill="#000"/><rect x="773" y="314" width="3" height="8" fill="#fff"/><rect x="782" y="277" width="1" height="37" fill="#000"/><rect x="780" y="290" width="5" height="23" fill="#000"/><rect x="781" y="291" width="3" height="21" fill="#fff"/><rect x="790" y="286" width="1" height="35" fill="#000"/><rect x="788" y="290" width="5" height="24" fill="#000"/><rect x="798" y="312" width="1" height="32" fill="#000"/><rect x="796" y="313" width="5" height="27" fill="#000"/><rect x="806" y="349" width="1" height="11" fill="#000"/><rect x="804" y="349" width="5" height="6" fill="#000"/><rect x="814" y="344" width="1" height="24" fill="#000"/><rect x="812" y="345" width="5" height="9" fill="#000"/><rect x="813" y="346" width="3" height="7" fill="#fff"/><rect x="822" y="324" width="1" height="24" fill="#000"/><rect x="820" y="334" width="5" height="12" fill="#000"/><rect x="821" y="335" width="3" height="10" fill="#fff"/><rect x="830" y="324" width="1" height="27" fill="#000"/><rect x="828" y="333" width="5" height="13" fill="#000"/><rect x="838" y="313" width="1" height="32" fill="#000"/><rect x="836" y="313" width="5" height="32" fill="#000"/><rect x="837" y="314" width="3" height="30" fill="#fff"/><rect x="846" y="295" width="1" height="21" fill="#000"/><rect x="844" y="295" width="5" height="18" fill="#000"/><rect x="845" y="296" width="3" height="16" fill="#fff"/><rect x="854" y="286" width="1" height="7" fill="#000"/><rect x="852" y="288" width="5" height="5" fill="#000"/><rect x="853" y="289" width="3" height="3" fill="#fff"/><rect x="862" y="270" width="1" height="21" fill="#000"/><rect x="860" y="283" width="5" height="6" fill="#000"/><rect x="861" y="284" width="3" height="4" fill="#fff"/><rect x="870" y="277" width="1" height="29" fill="#000"/><rect x="868" y="283" width="5" height="23" fill="#000"/><rect x="878" y="283" width="1" height="24" fill="#000"/><rect x="876" y="301" width="5" height="4" fill="#000"/><rect x="877" y="302" width="3" height="2" fill="#fff"/><rect x="886" y="297" width="1" height="37" fill="#000"/><rect x="884" y="298" width="5" height="4" fill="#000"/><rect x="885" y="299" width="3" height="2" fill="#fff"/><rect x="894" y="297" width="1" height="24" fill="#000"/><rect x="892" y="299" width="5" height="9" fill="#000"/><rect x="902" y="300" width="1" height="5" fill="#000"/><rect x="900" y="301" width="5" height="1" fill="#000"/><rect x="910" y="266" width="1" height="44" fill="#000"/><rect x="908" y="268" width="5" height="34" fill="#000"/><rect x="909" y="269" width="3" height="32" fill="#fff"/><rect x="918" y="266" width="1" height="21" fill="#000"/><rect x="916" y="268" width="5" height="14" fill="#000"/><rect x="926" y="258" width="1" height="24" fill="#000"/><rect x="924" y="264" width="5" height="18" fill="#000"/><rect x="925" y="265" width="3" height="16" fill="#fff"/><rect x="934" y="263" width="1" height="18" fill="#000"/><rect x="932" y="265" width="5" height="9" fill="#000"/><rect x="942" y="270" width="1" height="25" fill="#000"/><rect x="940" y="274" width="5" height="1" fill="#000"/><rect x="950" y="265" width="1" height="5" fill="#000"/><rect x="948" y="265" width="5" height="4" fill="#000"/><rect x="949" y="266" width="3" height="2" fill="#fff"/><rect x="958" y="246" width="1" height="27" fill="#000"/><rect x="956" y="249" width="5" height="17" fill="#000"/><rect x="957" y="250" width="3" height="15" fill="#fff"/><rect x="966" y="224" width="1" height="27" fill="#000"/><rect x="964" y="231" width="5" height="19" fill="#000"/><rect x="965" y="232" width="3" height="17" fill="#fff"/><rect x="974" y="201" width="1" height="37" fill="#000"/><rect x="972" y="202" width="5" height="30" fill="#000"/><rect x="973" y="203" width="3" height="28" fill="#fff"/><rect x="982" y="177" width="1" height="34" fill="#000"/><rect x="980" y="197" width="5" height="7" fill="#000"/><rect x="981" y="198" width="3" height="5" fill="#fff"/><rect x="990" y="187" width="1" height="19" fill="#000"/><rect x="988" y="187" width="5" height="10" fill="#000"/><rect x="989" y="188" width="3" height="8" fill="#fff"/><rect x="998" y="187" width="1" height="11" fill="#000"/><rect x="996" y="187" width="5" height="7" fill="#000"/><rect x="997" y="188" width="3" height="5" fill="#fff"/><rect x="1006" y="169" width="1" height="22" fill="#000"/><rect x="1004" y="173" width="5" height="16" fill="#000"/><rect x="1005" y="174" width="3" height="14" fill="#fff"/><rect x="1014" y="135" width="1" height="43" fill="#000"/><rect x="1012" y="136" width="5" height="38" fill="#000"/><rect x="1013" y="137" width="3" height="36" fill="#fff"/><rect x="1022" y="122" width="1" height="34" fill="#000"/><rect x="1020" y="126" width="5" height="12" fill="#000"/><rect x="1021" y="127" width="3" height="10" fill="#fff"/><rect x="1030" y="126" width="1" height="28" fill="#000"/><rect x="1028" y="127" width="5" height="18" fill="#000"/><rect x="1038" y="103" width="1" height="47" fill="#000"/><rect x="1036" y="113" width="5" height="33" fill="#000"/><rect x="1037" y="114" width="3" height="31" fill="#fff"/><rect x="1046" y="104" width="1" height="7" fill="#000"/><rect x="1044" y="107" width="5" height="4" fill="#000"/><rect x="1054" y="107" width="1" height="18" fill="#000"/><rect x="1052" y="111" width="5" height="3" fill="#000"/><rect x="1062" y="110" width="1" height="33" fill="#000"/><rect x="1060" y="113" width="5" height="18" fill="#000"/><rect x="1070" y="115" width="1" height="29" fill="#000"/><rect x="1068" y="130" width="5" height="11" fill="#000"/><rect x="1078" y="130" width="1" height="81" fill="#000"/><rect x="1076" y="140" width="5" height="50" fill="#000"/><rect x="1086" y="158" width="1" height="44" fill="#000"/><rect x="1084" y="174" width="5" height="15" fill="#000"/><rect x="1085" y="175" width="3" height="13" fill="#fff"/><rect x="1094" y="180" width="1" height="9" fill="#000"/><rect x="1092" y="181" width="5" height="7" fill="#000"/><rect x="1093" y="182" width="3" height="5" fill="#fff"/><rect x="1102" y="173" width="1" height="52" fill="#000"/><rect x="1100" y="178" width="5" height="3" fill="#000"/><rect x="1101" y="179" width="3" height="1" fill="#fff"/><rect x="1110" y="149" width="1" height="36" fill="#000"/><rect x="1108" y="156" width="5" height="23" fill="#000"/><rect x="1109" y="157" width="3" height="21" fill="#fff"/><rect x="1118" y="139" width="1" height="34" fill="#000"/><rect x="1116" y="156" width="5" height="9" fill="#000"/><rect x="1126" y="154" width="1" height="28" fill="#000"/><rect x="1124" y="154" width="5" height="11" fill="#000"/><rect x="1125" y="155" width="3" height="9" fill="#fff"/><rect x="1134" y="143" width="1" height="24" fill="#000"/><rect x="1132" y="154" width="5" height="13" fill="#000"/><rect x="1142" y="164" width="1" height="8" fill="#000"/><rect x="1140" y="167" width="5" height="4" fill="#000"/><rect x="1141" y="168" width="3" height="2" fill="#fff"/><rect x="1150" y="144" width="1" height="26" fill="#000"/><rect x="1148" y="146" width="5" height="21" fill="#000"/><rect x="1149" y="147" width="3" height="19" fill="#fff"/><rect x="1158" y="136" width="1" height="38" fill="#000"/><rect x="1156" y="147" width="5" height="7" fill="#000"/><rect x="1166" y="146" width="1" height="36" fill="#000"/><rect x="1164" y="153" width="5" height="19" fill="#000"/><rect x="1174" y="154" width="1" height="30" fill="#000"/><rect x="1172" y="158" width="5" height="14" fill="#000"/><rect x="1173" y="159" width="3" height="12" fill="#fff"/><rect x="1182" y="151" width="1" height="21" fill="#000"/><rect x="1180" y="159" width="5" height="10" fill="#000"/><rect x="1190" y="168" width="1" height="6" fill="#000"/><rect x="1188" y="172" width="5" height="1" fill="#000"/><rect x="1198" y="158" width="1" height="31" fill="#000"/><rect x="1196" y="159" width="5" height="13" fill="#000"/><rect x="1197" y="160" width="3" height="11" fill="#fff"/><rect x="1206" y="158" width="1" height="17" fill="#000"/><rect x="1204" y="159" width="5" height="6" fill="#000"/><rect x="1214" y="163" width="1" height="25" fill="#000"/><rect x="1212" y="164" width="5" height="12" fill="#000"/><rect x="1222" y="158" width="1" height="24" fill="#000"/><rect x="1220" y="168" width="5" height="7" fill="#000"/><rect x="1221" y="169" width="3" height="5" fill="#fff"/><rect x="1230" y="162" width="1" height="16" fill="#000"/><rect x="1228" y="169" width="5" height="4" fill="#000"/><rect x="1238" y="166" width="1" height="5" fill="#000"/><rect x="1236" y="166" width="5" height="3" fill="#000"/><rect x="1237" y="167" width="3" height="1" fill="#fff"/><rect x="1246" y="138" width="1" height="29" fill="#000"/><rect x="1244" y="145" width="5" height="22" fill="#000"/><rect x="1245" y="146" width="3" height="20" fill="#fff"/><rect x="1254" y="140" width="1" height="20" fill="#000"/><rect x="1252" y="145" width="5" height="11" fill="#000"/><rect x="1262" y="144" width="1" height="21" fill="#000"/><rect x="1260" y="152" width="5" height="5" fill="#000"/><rect x="1261" y="153" width="3" height="3" fill="#fff"/><rect x="1270" y="142" width="1" height="27" fill="#000"/><rect x="1268" y="152" width="5" height="1" fill="#000"/><rect x="1278" y="146" width="1" height="25" fill="#000"/><rect x="1276" y="147" width="5" height="4" fill="#000"/><rect x="1277" y="148" width="3" height="2" fill="#fff"/><rect x="1286" y="144" width="1" height="3" fill="#000"/><rect x="1284" y="144" width="5" height="3" fill="#000"/><rect x="1294" y="131" width="1" height="23" fill="#000"/><rect x="1292" y="146" width="5" height="3" fill="#000"/><rect x="1302" y="133" width="1" height="22" fill="#000"/><rect x="1300" y="134" width="5" height="14" fill="#000"/><rect x="1301" y="135" width="3" height="12" fill="#fff"/><rect x="1310" y="121" width="1" height="15" fill="#000"/><rect x="1308" y="128" width="5" height="7" fill="#000"/><rect x="1309" y="129" width="3" height="5" fill="#fff"/><rect x="1318" y="128" width="1" height="16" fill="#000"/><rect x="1316" y="129" width="5" height="7" fill="#000"/><rect x="1326" y="132" width="1" height="15" fill="#000"/><rect x="1324" y="135" width="5" height="8" fill="#000"/><rect x="1334" y="136" width="1" height="6" fill="#000"/><rect x="1332" y="137" width="5" height="4" fill="#000"/><rect x="1333" y="138" width="3" height="2" fill="#fff"/><rect x="1342" y="133" width="1" height="18" fill="#000"/><rect x="1340" y="135" width="5" height="3" fill="#000"/><rect x="1341" y="136" width="3" height="1" fill="#fff"/><rect x="1350" y="126" width="1" height="15" fill="#000"/><rect x="1348" y="134" width="5" height="3" fill="#000"/><rect x="1358" y="132" width="1" height="14" fill="#000"/><rect x="1356" y="136" width="5" height="5" fill="#000"/><rect x="1366" y="129" width="1" height="27" fill="#000"/><rect x="1364" y="140" width="5" height="8" fill="#000"/><rect x="1374" y="145" width="1" height="24" fill="#000"/><rect x="1372" y="147" width="5" height="17" fill="#000"/><rect x="1382" y="151" width="1" height="12" fill="#000"/><rect x="1380" y="157" width="5" height="6" fill="#000"/><rect x="1381" y="158" width="3" height="4" fill="#fff"/><rect x="1390" y="139" width="1" height="21" fill="#000"/><rect x="1388" y="141" width="5" height="16" fill="#000"/><rect x="1389" y="142" width="3" height="14" fill="#fff"/><rect x="1398" y="135" width="1" height="20" fill="#000"/><rect x="1396" y="141" width="5" height="11" fill="#000"/><rect x="1406" y="151" width="1" height="13" fill="#000"/><rect x="1404" y="151" width="5" height="2" fill="#000"/><rect x="1414" y="152" width="1" height="36" fill="#000"/><rect x="1412" y="152" width="5" height="16" fill="#000"/><rect x="1422" y="166" width="1" height="38" fill="#000"/><rect x="1420" y="168" width="5" height="22" fill="#000"/><rect x="1430" y="185" width="1" height="8" fill="#000"/><rect x="1428" y="187" width="5" height="3" fill="#000"/><rect x="1429" y="188" width="3" height="1" fill="#fff"/><rect x="1438" y="160" width="1" height="31" fill="#000"/><rect x="1436" y="160" width="5" height="27" fill="#000"/><rect x="1437" y="161" width="3" height="25" fill="#fff"/></g>
<rect x="1317" y="174" width="170" height="5" fill="#00ff00" shape-rendering="crispEdges"/>
<line x1="1399.3" y1="133.2" x2="1422.62" y2="187.38" stroke="#ff0000" stroke-width="3.1" stroke-linecap="round"/><polygon points="1425.90,195.00 1417.60,187.36 1426.05,183.72" fill="#ff0000" stroke="#ff0000" stroke-width="1"/>
<line x1="1425.4" y1="195.0" x2="1455.92" y2="164.40" stroke="#ff0000" stroke-width="3.1" stroke-linecap="round"/><polygon points="1462.70,157.60 1457.55,168.85 1451.46,162.78" fill="#ff0000" stroke="#ff0000" stroke-width="1"/>
<text x="1510.6" y="178.3" font-size="20.3" fill="#00ff00" font-family="'Noto Sans CJK SC', 'WenQuanYi Zen Hei', sans-serif" textLength="112.5" lengthAdjust="spacingAndGlyphs">多空转折点</text>
<g shape-rendering="crispEdges"><rect x="6" y="643" width="1" height="5" fill="#c0c0c0"/><rect x="14" y="643" width="1" height="4" fill="#c0c0c0"/><rect x="22" y="643" width="1" height="3" fill="#c0c0c0"/><rect x="30" y="643" width="1" height="2" fill="#c0c0c0"/><rect x="38" y="643" width="1" height="1" fill="#c0c0c0"/><rect x="46" y="641" width="1" height="3" fill="#c0c0c0"/><rect x="54" y="640" width="1" height="4" fill="#c0c0c0"/><rect x="62" y="639" width="1" height="5" fill="#c0c0c0"/><rect x="70" y="637" width="1" height="7" fill="#c0c0c0"/><rect x="78" y="636" width="1" height="8" fill="#c0c0c0"/><rect x="86" y="635" width="1" height="9" fill="#c0c0c0"/><rect x="94" y="635" width="1" height="9" fill="#c0c0c0"/><rect x="102" y="636" width="1" height="8" fill="#c0c0c0"/><rect x="110" y="636" width="1" height="8" fill="#c0c0c0"/><rect x="118" y="637" width="1" height="7" fill="#c0c0c0"/><rect x="126" y="639" width="1" height="5" fill="#c0c0c0"/><rect x="134" y="642" width="1" height="2" fill="#c0c0c0"/><rect x="142" y="643" width="1" height="3" fill="#c0c0c0"/><rect x="150" y="643" width="1" height="5" fill="#c0c0c0"/><rect x="158" y="643" width="1" height="6" fill="#c0c0c0"/><rect x="166" y="643" width="1" height="8" fill="#c0c0c0"/><rect x="174" y="643" width="1" height="11" fill="#c0c0c0"/><rect x="182" y="643" width="1" height="13" fill="#c0c0c0"/><rect x="190" y="643" width="1" height="15" fill="#c0c0c0"/><rect x="198" y="643" width="1" height="13" fill="#c0c0c0"/><rect x="206" y="643" width="1" height="10" fill="#c0c0c0"/><rect x="214" y="643" width="1" height="6" fill="#c0c0c0"/><rect x="222" y="643" width="1" height="4" fill="#c0c0c0"/><rect x="230" y="643" width="1" height="3" fill="#c0c0c0"/><rect x="238" y="643" width="1" height="1" fill="#c0c0c0"/><rect x="246" y="642" width="1" height="2" fill="#c0c0c0"/><rect x="254" y="640" width="1" height="4" fill="#c0c0c0"/><rect x="262" y="640" width="1" height="4" fill="#c0c0c0"/><rect x="270" y="641" width="1" height="3" fill="#c0c0c0"/><rect x="278" y="642" width="1" height="2" fill="#c0c0c0"/><rect x="286" y="643" width="1" height="1" fill="#c0c0c0"/><rect x="294" y="643" width="1" height="2" fill="#c0c0c0"/><rect x="302" y="643" width="1" height="1" fill="#c0c0c0"/><rect x="310" y="643" width="1" height="2" fill="#c0c0c0"/><rect x="318" y="643" width="1" height="3" fill="#c0c0c0"/><rect x="326" y="643" width="1" height="7" fill="#c0c0c0"/><rect x="334" y="643" width="1" height="11" fill="#c0c0c0"/><rect x="342" y="643" width="1" height="15" fill="#c0c0c0"/><rect x="350" y="643" width="1" height="18" fill="#c0c0c0"/><rect x="358" y="643" width="1" height="25" fill="#c0c0c0"/><rect x="366" y="643" width="1" height="34" fill="#c0c0c0"/><rect x="374" y="643" width="1" height="39" fill="#c0c0c0"/><rect x="382" y="643" width="1" height="39" fill="#c0c0c0"/><rect x="390" y="643" width="1" height="42" fill="#c0c0c0"/><rect x="398" y="643" width="1" height="41" fill="#c0c0c0"/><rect x="406" y="643" width="1" height="43" fill="#c0c0c0"/><rect x="414" y="643" width="1" height="47" fill="#c0c0c0"/><rect x="422" y="643" width="1" height="52" fill="#c0c0c0"/><rect x="430" y="643" width="1" height="58" fill="#c0c0c0"/><rect x="438" y="643" width="1" height="61" fill="#c0c0c0"/><rect x="446" y="643" width="1" height="66" fill="#c0c0c0"/><rect x="454" y="643" width="1" height="81" fill="#c0c0c0"/><rect x="462" y="643" width="1" height="84" fill="#c0c0c0"/><rect x="470" y="643" width="1" height="89" fill="#c0c0c0"/><rect x="478" y="643" width="1" height="97" fill="#c0c0c0"/><rect x="486" y="643" width="1" height="100" fill="#c0c0c0"/><rect x="494" y="643" width="1" height="101" fill="#c0c0c0"/><rect x="502" y="643" width="1" height="99" fill="#c0c0c0"/><rect x="510" y="643" width="1" height="97" fill="#c0c0c0"/><rect x="518" y="643" width="1" height="98" fill="#c0c0c0"/><rect x="526" y="643" width="1" height="92" fill="#c0c0c0"/><rect x="534" y="643" width="1" height="80" fill="#c0c0c0"/><rect x="542" y="643" width="1" height="69" fill="#c0c0c0"/><rect x="550" y="643" width="1" height="58" fill="#c0c0c0"/><rect x="558" y="643" width="1" height="51" fill="#c0c0c0"/><rect x="566" y="643" width="1" height="46" fill="#c0c0c0"/><rect x="574" y="643" width="1" height="38" fill="#c0c0c0"/><rect x="582" y="643" width="1" height="34" fill="#c0c0c0"/><rect x="590" y="643" width="1" height="35" fill="#c0c0c0"/><rect x="598" y="643" width="1" height="34" fill="#c0c0c0"/><rect x="606" y="643" width="1" height="35" fill="#c0c0c0"/><rect x="614" y="643" width="1" height="34" fill="#c0c0c0"/><rect x="622" y="643" width="1" height="27" fill="#c0c0c0"/><rect x="630" y="643" width="1" height="22" fill="#c0c0c0"/><rect x="638" y="643" width="1" height="15" fill="#c0c0c0"/><rect x="646" y="643" width="1" height="9" fill="#c0c0c0"/><rect x="654" y="643" width="1" height="5" fill="#c0c0c0"/><rect x="662" y="643" width="1" height="2" fill="#c0c0c0"/><rect x="670" y="643" width="1" height="1" fill="#c0c0c0"/><rect x="678" y="640" width="1" height="4" fill="#c0c0c0"/><rect x="686" y="639" width="1" height="5" fill="#c0c0c0"/><rect x="694" y="636" width="1" height="8" fill="#c0c0c0"/><rect x="702" y="634" width="1" height="10" fill="#c0c0c0"/><rect x="710" y="633" width="1" height="11" fill="#c0c0c0"/><rect x="718" y="632" width="1" height="12" fill="#c0c0c0"/><rect x="726" y="634" width="1" height="10" fill="#c0c0c0"/><rect x="734" y="635" width="1" height="9" fill="#c0c0c0"/><rect x="742" y="635" width="1" height="9" fill="#c0c0c0"/><rect x="750" y="635" width="1" height="9" fill="#c0c0c0"/><rect x="758" y="635" width="1" height="9" fill="#c0c0c0"/><rect x="766" y="633" width="1" height="11" fill="#c0c0c0"/><rect x="774" y="631" width="1" height="13" fill="#c0c0c0"/><rect x="782" y="627" width="1" height="17" fill="#c0c0c0"/><rect x="790" y="627" width="1" height="17" fill="#c0c0c0"/><rect x="798" y="629" width="1" height="15" fill="#c0c0c0"/><rect x="806" y="632" width="1" height="12" fill="#c0c0c0"/><rect x="814" y="633" width="1" height="11" fill="#c0c0c0"/><rect x="822" y="634" width="1" height="10" fill="#c0c0c0"/><rect x="830" y="635" width="1" height="9" fill="#c0c0c0"/><rect x="838" y="634" width="1" height="10" fill="#c0c0c0"/><rect x="846" y="631" width="1" height="13" fill="#c0c0c0"/><rect x="854" y="629" width="1" height="15" fill="#c0c0c0"/><rect x="862" y="627" width="1" height="17" fill="#c0c0c0"/><rect x="870" y="627" width="1" height="17" fill="#c0c0c0"/><rect x="878" y="627" width="1" height="17" fill="#c0c0c0"/><rect x="886" y="627" width="1" height="17" fill="#c0c0c0"/><rect x="894" y="628" width="1" height="16" fill="#c0c0c0"/><rect x="902" y="628" width="1" height="16" fill="#c0c0c0"/><rect x="910" y="626" width="1" height="18" fill="#c0c0c0"/><rect x="918" y="626" width="1" height="18" fill="#c0c0c0"/><rect x="926" y="624" width="1" height="20" fill="#c0c0c0"/><rect x="934" y="624" width="1" height="20" fill="#c0c0c0"/><rect x="942" y="624" width="1" height="20" fill="#c0c0c0"/><rect x="950" y="623" width="1" height="21" fill="#c0c0c0"/><rect x="958" y="622" width="1" height="22" fill="#c0c0c0"/><rect x="966" y="620" width="1" height="24" fill="#c0c0c0"/><rect x="974" y="616" width="1" height="28" fill="#c0c0c0"/><rect x="982" y="612" width="1" height="32" fill="#c0c0c0"/><rect x="990" y="609" width="1" height="35" fill="#c0c0c0"/><rect x="998" y="607" width="1" height="37" fill="#c0c0c0"/><rect x="1006" y="605" width="1" height="39" fill="#c0c0c0"/><rect x="1014" y="601" width="1" height="43" fill="#c0c0c0"/><rect x="1022" y="597" width="1" height="47" fill="#c0c0c0"/><rect x="1030" y="596" width="1" height="48" fill="#c0c0c0"/><rect x="1038" y="593" width="1" height="51" fill="#c0c0c0"/><rect x="1046" y="591" width="1" height="53" fill="#c0c0c0"/><rect x="1054" y="591" width="1" height="53" fill="#c0c0c0"/><rect x="1062" y="592" width="1" height="52" fill="#c0c0c0"/><rect x="1070" y="595" width="1" height="49" fill="#c0c0c0"/><rect x="1078" y="601" width="1" height="43" fill="#c0c0c0"/><rect x="1086" y="606" width="1" height="38" fill="#c0c0c0"/><rect x="1094" y="610" width="1" height="34" fill="#c0c0c0"/><rect x="1102" y="614" width="1" height="30" fill="#c0c0c0"/><rect x="1110" y="615" width="1" height="29" fill="#c0c0c0"/><rect x="1118" y="617" width="1" height="27" fill="#c0c0c0"/><rect x="1126" y="618" width="1" height="26" fill="#c0c0c0"/><rect x="1134" y="620" width="1" height="24" fill="#c0c0c0"/><rect x="1142" y="622" width="1" height="22" fill="#c0c0c0"/><rect x="1150" y="623" width="1" height="21" fill="#c0c0c0"/><rect x="1158" y="623" width="1" height="21" fill="#c0c0c0"/><rect x="1166" y="626" width="1" height="18" fill="#c0c0c0"/><rect x="1174" y="627" width="1" height="17" fill="#c0c0c0"/><rect x="1182" y="629" width="1" height="15" fill="#c0c0c0"/><rect x="1190" y="630" width="1" height="14" fill="#c0c0c0"/><rect x="1198" y="631" width="1" height="13" fill="#c0c0c0"/><rect x="1206" y="632" width="1" height="12" fill="#c0c0c0"/><rect x="1214" y="634" width="1" height="10" fill="#c0c0c0"/><rect x="1222" y="635" width="1" height="9" fill="#c0c0c0"/><rect x="1230" y="636" width="1" height="8" fill="#c0c0c0"/><rect x="1238" y="636" width="1" height="8" fill="#c0c0c0"/><rect x="1246" y="635" width="1" height="9" fill="#c0c0c0"/><rect x="1254" y="635" width="1" height="9" fill="#c0c0c0"/><rect x="1262" y="635" width="1" height="9" fill="#c0c0c0"/><rect x="1270" y="635" width="1" height="9" fill="#c0c0c0"/><rect x="1278" y="634" width="1" height="10" fill="#c0c0c0"/><rect x="1286" y="634" width="1" height="10" fill="#c0c0c0"/><rect x="1294" y="634" width="1" height="10" fill="#c0c0c0"/><rect x="1302" y="633" width="1" height="11" fill="#c0c0c0"/><rect x="1310" y="632" width="1" height="12" fill="#c0c0c0"/><rect x="1318" y="632" width="1" height="12" fill="#c0c0c0"/><rect x="1326" y="632" width="1" height="12" fill="#c0c0c0"/><rect x="1334" y="632" width="1" height="12" fill="#c0c0c0"/><rect x="1342" y="632" width="1" height="12" fill="#c0c0c0"/><rect x="1350" y="633" width="1" height="11" fill="#c0c0c0"/><rect x="1358" y="633" width="1" height="11" fill="#c0c0c0"/><rect x="1366" y="634" width="1" height="10" fill="#c0c0c0"/><rect x="1374" y="637" width="1" height="7" fill="#c0c0c0"/><rect x="1382" y="638" width="1" height="6" fill="#c0c0c0"/><rect x="1390" y="638" width="1" height="6" fill="#c0c0c0"/><rect x="1398" y="639" width="1" height="5" fill="#c0c0c0"/><rect x="1406" y="640" width="1" height="4" fill="#c0c0c0"/><rect x="1414" y="641" width="1" height="3" fill="#c0c0c0"/><rect x="1422" y="643" width="1" height="3" fill="#c0c0c0"/><rect x="1430" y="643" width="1" height="5" fill="#c0c0c0"/><rect x="1438" y="643" width="1" height="5" fill="#c0c0c0"/></g>
<polyline points="-1.5,641.5 6.5,642.5 14.5,643.5 22.5,644.5 30.5,644.5 38.5,644.5 46.5,644.5 54.5,644.5 62.5,643.5 70.5,642.5 78.5,641.5 86.5,640.5 94.5,639.5 102.5,638.5 110.5,637.5 118.5,637.5 126.5,637.5 134.5,637.5 142.5,638.5 150.5,639.5 158.5,640.5 166.5,642.5 174.5,644.5 182.5,646.5 190.5,648.5 198.5,650.5 206.5,651.5 214.5,652.5 222.5,652.5 230.5,651.5 238.5,651.5 246.5,649.5 254.5,648.5 262.5,646.5 270.5,644.5 278.5,643.5 286.5,642.5 294.5,642.5 302.5,642.5 310.5,642.5 318.5,642.5 326.5,643.5 334.5,645.5 342.5,647.5 350.5,649.5 358.5,651.5 366.5,655.5 374.5,659.5 382.5,663.5 390.5,668.5 398.5,671.5 406.5,675.5 414.5,679.5 422.5,682.5 430.5,686.5 438.5,689.5 446.5,692.5 454.5,697.5 462.5,701.5 470.5,707.5 478.5,713.5 486.5,719.5 494.5,724.5 502.5,729.5 510.5,733.5 518.5,736.5 526.5,737.5 534.5,737.5 542.5,735.5 550.5,730.5 558.5,725.5 566.5,719.5 574.5,712.5 582.5,705.5 590.5,698.5 598.5,691.5 606.5,686.5 614.5,683.5 622.5,679.5 630.5,676.5 638.5,673.5 646.5,669.5 654.5,666.5 662.5,662.5 670.5,659.5 678.5,655.5 686.5,650.5 694.5,647.5 702.5,643.5 710.5,641.5 718.5,639.5 726.5,637.5 734.5,636.5 742.5,635.5 750.5,635.5 758.5,634.5 766.5,634.5 774.5,634.5 782.5,633.5 790.5,632.5 798.5,632.5 806.5,631.5 814.5,631.5 822.5,631.5 830.5,631.5 838.5,631.5 846.5,631.5 854.5,631.5 862.5,631.5 870.5,631.5 878.5,631.5 886.5,630.5 894.5,629.5 902.5,629.5 910.5,628.5 918.5,627.5 926.5,627.5 934.5,626.5 942.5,626.5 950.5,626.5 958.5,625.5 966.5,624.5 974.5,623.5 982.5,621.5 990.5,619.5 998.5,617.5 1006.5,615.5 1014.5,613.5 1022.5,610.5 1030.5,607.5 1038.5,604.5 1046.5,601.5 1054.5,599.5 1062.5,597.5 1070.5,596.5 1078.5,595.5 1086.5,596.5 1094.5,597.5 1102.5,599.5 1110.5,602.5 1118.5,605.5 1126.5,608.5 1134.5,611.5 1142.5,614.5 1150.5,616.5 1158.5,618.5 1166.5,620.5 1174.5,621.5 1182.5,623.5 1190.5,624.5 1198.5,626.5 1206.5,627.5 1214.5,628.5 1222.5,630.5 1230.5,631.5 1238.5,632.5 1246.5,633.5 1254.5,634.5 1262.5,634.5 1270.5,635.5 1278.5,635.5 1286.5,635.5 1294.5,635.5 1302.5,635.5 1310.5,634.5 1318.5,634.5 1326.5,633.5 1334.5,633.5 1342.5,633.5 1350.5,633.5 1358.5,633.5 1366.5,633.5 1374.5,633.5 1382.5,634.5 1390.5,635.5 1398.5,635.5 1406.5,636.5 1414.5,637.5 1422.5,638.5 1430.5,640.5 1438.5,641.5" fill="none" stroke="#ff0000" stroke-width="1" stroke-dasharray="3,3" shape-rendering="crispEdges"/>
<line x1="0" y1="789.5" x2="1689" y2="789.5" stroke="#c0c0c0" stroke-width="1" stroke-dasharray="3,3" stroke-dashoffset="1" shape-rendering="crispEdges"/>
<line x1="0" y1="840.5" x2="1689" y2="840.5" stroke="#c0c0c0" stroke-width="1" stroke-dasharray="3,3" stroke-dashoffset="1" shape-rendering="crispEdges"/>
<line x1="0" y1="901.5" x2="1689" y2="901.5" stroke="#c0c0c0" stroke-width="1" stroke-dasharray="3,3" stroke-dashoffset="1" shape-rendering="crispEdges"/>
<polyline points="-1.5,857.5 6.5,863.5 14.5,841.5 22.5,832.5 30.5,834.5 38.5,834.5 46.5,822.5 54.5,827.5 62.5,824.5 70.5,818.5 78.5,823.5 86.5,821.5 94.5,822.5 102.5,836.5 110.5,836.5 118.5,835.5 126.5,848.5 134.5,863.5 142.5,868.5 150.5,859.5 158.5,860.5 166.5,865.5 174.5,879.5 182.5,873.5 190.5,868.5 198.5,846.5 206.5,832.5 214.5,822.5 222.5,833.5 230.5,836.5 238.5,833.5 246.5,829.5 254.5,829.5 262.5,837.5 270.5,843.5 278.5,842.5 286.5,846.5 294.5,851.5 302.5,835.5 310.5,845.5 318.5,854.5 326.5,864.5 334.5,874.5 342.5,874.5 350.5,876.5 358.5,889.5 366.5,897.5 374.5,887.5 382.5,862.5 390.5,872.5 398.5,860.5 406.5,866.5 414.5,874.5 422.5,878.5 430.5,883.5 438.5,878.5 446.5,884.5 454.5,896.5 462.5,875.5 470.5,878.5 478.5,884.5 486.5,876.5 494.5,876.5 502.5,873.5 510.5,874.5 518.5,879.5 526.5,861.5 534.5,845.5 542.5,844.5 550.5,840.5 558.5,846.5 566.5,846.5 574.5,839.5 582.5,846.5 590.5,853.5 598.5,853.5 606.5,855.5 614.5,853.5 622.5,837.5 630.5,837.5 638.5,833.5 646.5,830.5 654.5,833.5 662.5,835.5 670.5,837.5 678.5,831.5 686.5,836.5 694.5,829.5 702.5,830.5 710.5,832.5 718.5,834.5 726.5,841.5 734.5,838.5 742.5,837.5 750.5,834.5 758.5,834.5 766.5,827.5 774.5,824.5 782.5,817.5 790.5,827.5 798.5,838.5 806.5,843.5 814.5,840.5 822.5,836.5 830.5,840.5 838.5,829.5 846.5,823.5 854.5,821.5 862.5,820.5 870.5,830.5 878.5,829.5 886.5,828.5 894.5,832.5 902.5,830.5 910.5,818.5 918.5,825.5 926.5,819.5 934.5,824.5 942.5,824.5 950.5,821.5 958.5,815.5 966.5,809.5 974.5,802.5 982.5,801.5 990.5,798.5 998.5,798.5 1006.5,795.5 1014.5,788.5 1022.5,786.5 1030.5,798.5 1038.5,792.5 1046.5,792.5 1054.5,794.5 1062.5,805.5 1070.5,811.5 1078.5,836.5 1086.5,831.5 1094.5,834.5 1102.5,832.5 1110.5,824.5 1118.5,828.5 1126.5,825.5 1134.5,831.5 1142.5,831.5 1150.5,823.5 1158.5,827.5 1166.5,836.5 1174.5,831.5 1182.5,836.5 1190.5,838.5 1198.5,832.5 1206.5,835.5 1214.5,841.5 1222.5,837.5 1230.5,839.5 1238.5,836.5 1246.5,825.5 1254.5,832.5 1262.5,830.5 1270.5,830.5 1278.5,827.5 1286.5,827.5 1294.5,828.5 1302.5,820.5 1310.5,817.5 1318.5,823.5 1326.5,829.5 1334.5,826.5 1342.5,825.5 1350.5,826.5 1358.5,830.5 1366.5,837.5 1374.5,850.5 1382.5,845.5 1390.5,832.5 1398.5,840.5 1406.5,841.5 1414.5,852.5 1422.5,865.5 1430.5,863.5 1438.5,842.5" fill="none" stroke="#1e90ff" stroke-width="1" shape-rendering="crispEdges"/>
<g shape-rendering="crispEdges"><rect x="0" y="26" width="1690" height="1" fill="#000"/><rect x="0" y="579" width="1690" height="1" fill="#000"/><rect x="0" y="581" width="1690" height="1" fill="#000"/><rect x="0" y="751" width="1690" height="1" fill="#000"/><rect x="0" y="753" width="1690" height="1" fill="#000"/><rect x="0" y="927" width="1690" height="1" fill="#000"/><rect x="1689" y="26" width="1" height="554" fill="#000"/><rect x="1689" y="581" width="1" height="171" fill="#000"/><rect x="1689" y="753" width="1" height="175" fill="#000"/><rect x="1690" y="48" width="3" height="1" fill="#000"/><rect x="1690" y="81" width="3" height="1" fill="#000"/><rect x="1690" y="114" width="3" height="1" fill="#000"/><rect x="1690" y="147" width="3" height="1" fill="#000"/><rect x="1690" y="180" width="3" height="1" fill="#000"/><rect x="1690" y="213" width="3" height="1" fill="#000"/><rect x="1690" y="246" width="3" height="1" fill="#000"/><rect x="1690" y="279" width="3" height="1" fill="#000"/><rect x="1690" y="312" width="3" height="1" fill="#000"/><rect x="1690" y="345" width="3" height="1" fill="#000"/><rect x="1690" y="378" width="3" height="1" fill="#000"/><rect x="1690" y="411" width="3" height="1" fill="#000"/><rect x="1690" y="444" width="3" height="1" fill="#000"/><rect x="1690" y="477" width="3" height="1" fill="#000"/><rect x="1690" y="510" width="3" height="1" fill="#000"/><rect x="1690" y="543" width="3" height="1" fill="#000"/><rect x="1690" y="576" width="3" height="1" fill="#000"/><rect x="1690" y="583" width="3" height="1" fill="#000"/><rect x="1690" y="643" width="3" height="1" fill="#000"/><rect x="1690" y="750" width="3" height="1" fill="#000"/><rect x="1690" y="755" width="3" height="1" fill="#000"/><rect x="1690" y="926" width="3" height="1" fill="#000"/><rect x="62" y="928" width="1" height="3" fill="#000"/><rect x="126" y="928" width="1" height="3" fill="#000"/><rect x="190" y="928" width="1" height="3" fill="#000"/><rect x="254" y="928" width="1" height="3" fill="#000"/><rect x="318" y="928" width="1" height="3" fill="#000"/><rect x="382" y="928" width="1" height="3" fill="#000"/><rect x="446" y="928" width="1" height="3" fill="#000"/><rect x="510" y="928" width="1" height="3" fill="#000"/><rect x="574" y="928" width="1" height="3" fill="#000"/><rect x="638" y="928" width="1" height="3" fill="#000"/><rect x="702" y="928" width="1" height="3" fill="#000"/><rect x="766" y="928" width="1" height="3" fill="#000"/><rect x="830" y="928" width="1" height="3" fill="#000"/><rect x="894" y="928" width="1" height="3" fill="#000"/><rect x="958" y="928" width="1" height="3" fill="#000"/><rect x="1022" y="928" width="1" height="3" fill="#000"/><rect x="1086" y="928" width="1" height="3" fill="#000"/><rect x="1150" y="928" width="1" height="3" fill="#000"/><rect x="1214" y="928" width="1" height="3" fill="#000"/><rect x="1278" y="928" width="1" height="3" fill="#000"/><rect x="1342" y="928" width="1" height="3" fill="#000"/><rect x="1406" y="928" width="1" height="3" fill="#000"/></g>
<text x="1694.50" y="52" font-size="9.9" fill="#000" stroke="#000" stroke-width="0.2" textLength="34.00" lengthAdjust="spacingAndGlyphs">24171.0</text>
<text x="1694.50" y="85" font-size="9.9" fill="#000" stroke="#000" stroke-width="0.2" textLength="34.00" lengthAdjust="spacingAndGlyphs">23643.0</text>
<text x="1694.50" y="118" font-size="9.9" fill="#000" stroke="#000" stroke-width="0.2" textLength="34.00" lengthAdjust="spacingAndGlyphs">23115.0</text>
<text x="1694.50" y="151" font-size="9.9" fill="#000" stroke="#000" stroke-width="0.2" textLength="34.00" lengthAdjust="spacingAndGlyphs">22587.0</text>
<text x="1694.50" y="184" font-size="9.9" fill="#000" stroke="#000" stroke-width="0.2" textLength="34.00" lengthAdjust="spacingAndGlyphs">22059.0</text>
<text x="1694.50" y="217" font-size="9.9" fill="#000" stroke="#000" stroke-width="0.2" textLength="34.00" lengthAdjust="spacingAndGlyphs">21515.0</text>
<text x="1694.50" y="250" font-size="9.9" fill="#000" stroke="#000" stroke-width="0.2" textLength="34.00" lengthAdjust="spacingAndGlyphs">20987.0</text>
<text x="1694.50" y="283" font-size="9.9" fill="#000" stroke="#000" stroke-width="0.2" textLength="34.00" lengthAdjust="spacingAndGlyphs">20459.0</text>
<text x="1694.50" y="316" font-size="9.9" fill="#000" stroke="#000" stroke-width="0.2" textLength="34.00" lengthAdjust="spacingAndGlyphs">19931.0</text>
<text x="1694.50" y="349" font-size="9.9" fill="#000" stroke="#000" stroke-width="0.2" textLength="34.00" lengthAdjust="spacingAndGlyphs">19403.0</text>
<text x="1694.50" y="382" font-size="9.9" fill="#000" stroke="#000" stroke-width="0.2" textLength="34.00" lengthAdjust="spacingAndGlyphs">18875.0</text>
<text x="1694.50" y="415" font-size="9.9" fill="#000" stroke="#000" stroke-width="0.2" textLength="34.00" lengthAdjust="spacingAndGlyphs">18331.0</text>
<text x="1694.50" y="448" font-size="9.9" fill="#000" stroke="#000" stroke-width="0.2" textLength="34.00" lengthAdjust="spacingAndGlyphs">17803.0</text>
<text x="1694.50" y="481" font-size="9.9" fill="#000" stroke="#000" stroke-width="0.2" textLength="34.00" lengthAdjust="spacingAndGlyphs">17275.0</text>
<text x="1694.50" y="514" font-size="9.9" fill="#000" stroke="#000" stroke-width="0.2" textLength="34.00" lengthAdjust="spacingAndGlyphs">16747.0</text>
<text x="1694.50" y="547" font-size="9.9" fill="#000" stroke="#000" stroke-width="0.2" textLength="34.00" lengthAdjust="spacingAndGlyphs">16219.0</text>
<text x="1694.50" y="580" font-size="9.9" fill="#000" stroke="#000" stroke-width="0.2" textLength="34.00" lengthAdjust="spacingAndGlyphs">15691.0</text>
<text x="1692.50" y="592" font-size="9.9" fill="#000" stroke="#000" stroke-width="0.2" textLength="28.70" lengthAdjust="spacingAndGlyphs">931.89</text>
<text x="1692.50" y="647" font-size="9.9" fill="#000" stroke="#000" stroke-width="0.2" textLength="18.50" lengthAdjust="spacingAndGlyphs">0.00</text>
<text x="1692.50" y="748" font-size="9.9" fill="#000" stroke="#000" stroke-width="0.2" textLength="36.50" lengthAdjust="spacingAndGlyphs">-1667.31</text>
<text x="1692.50" y="764" font-size="9.9" fill="#000" stroke="#000" stroke-width="0.2" textLength="16.50" lengthAdjust="spacingAndGlyphs">100</text>
<text x="1692.00" y="793" font-size="9.9" fill="#000" stroke="#000" stroke-width="0.2" textLength="11.50" lengthAdjust="spacingAndGlyphs">80</text>
<text x="1692.00" y="844" font-size="9.9" fill="#000" stroke="#000" stroke-width="0.2" textLength="11.50" lengthAdjust="spacingAndGlyphs">50</text>
<text x="1692.50" y="905" font-size="9.9" fill="#000" stroke="#000" stroke-width="0.2" textLength="11.00" lengthAdjust="spacingAndGlyphs">15</text>
<text x="1692.50" y="924" font-size="9.9" fill="#000" stroke="#000" stroke-width="0.2" textLength="6.00" lengthAdjust="spacingAndGlyphs">0</text>
<rect x="1691" y="115" width="41" height="11" fill="#ff0000" shape-rendering="crispEdges"/>
<text x="1694.50" y="124" font-size="9.9" fill="#fff" stroke="#fff" stroke-width="0.2" textLength="34.00" lengthAdjust="spacingAndGlyphs">22995.9</text>
<rect x="1691" y="137" width="41" height="11" fill="#ff0000" shape-rendering="crispEdges"/>
<text x="1694.50" y="146" font-size="9.9" fill="#fff" stroke="#fff" stroke-width="0.2" textLength="34.00" lengthAdjust="spacingAndGlyphs">22642.7</text>
<rect x="1691" y="154" width="41" height="11" fill="#000000" shape-rendering="crispEdges"/>
<text x="1694.50" y="163" font-size="9.9" fill="#fff" stroke="#fff" stroke-width="0.2" textLength="34.00" lengthAdjust="spacingAndGlyphs">22367.5</text>
<rect x="1691" y="168" width="41" height="11" fill="#32cd32" shape-rendering="crispEdges"/>
<text x="1694.50" y="177" font-size="9.9" fill="#fff" stroke="#fff" stroke-width="0.2" textLength="34.00" lengthAdjust="spacingAndGlyphs">22145.0</text>
<rect x="1691" y="188" width="41" height="11" fill="#0000ff" shape-rendering="crispEdges"/>
<text x="1694.50" y="197" font-size="9.9" fill="#fff" stroke="#fff" stroke-width="0.2" textLength="34.00" lengthAdjust="spacingAndGlyphs">21823.9</text>
<rect x="1691" y="214" width="41" height="11" fill="#0000ff" shape-rendering="crispEdges"/>
<text x="1694.50" y="223" font-size="9.9" fill="#fff" stroke="#fff" stroke-width="0.2" textLength="34.00" lengthAdjust="spacingAndGlyphs">21406.5</text>
<text x="-3.20" y="940" font-size="9.9" stroke="#000" stroke-width="0.2" textLength="45.69" lengthAdjust="spacingAndGlyphs">6 Jan 2020</text>
<text x="60.80" y="940" font-size="9.9" stroke="#000" stroke-width="0.2" textLength="50.83" lengthAdjust="spacingAndGlyphs">15 Jan 2020</text>
<text x="124.80" y="940" font-size="9.9" stroke="#000" stroke-width="0.2" textLength="50.83" lengthAdjust="spacingAndGlyphs">24 Jan 2020</text>
<text x="188.80" y="940" font-size="9.9" stroke="#000" stroke-width="0.2" textLength="46.72" lengthAdjust="spacingAndGlyphs">3 Feb 2020</text>
<text x="252.80" y="940" font-size="9.9" stroke="#000" stroke-width="0.2" textLength="51.85" lengthAdjust="spacingAndGlyphs">12 Feb 2020</text>
<text x="316.80" y="940" font-size="9.9" stroke="#000" stroke-width="0.2" textLength="51.85" lengthAdjust="spacingAndGlyphs">21 Feb 2020</text>
<text x="380.80" y="940" font-size="9.9" stroke="#000" stroke-width="0.2" textLength="46.71" lengthAdjust="spacingAndGlyphs">2 Mar 2020</text>
<text x="444.80" y="940" font-size="9.9" stroke="#000" stroke-width="0.2" textLength="51.16" lengthAdjust="spacingAndGlyphs">11 Mar 2020</text>
<text x="508.80" y="940" font-size="9.9" stroke="#000" stroke-width="0.2" textLength="51.84" lengthAdjust="spacingAndGlyphs">20 Mar 2020</text>
<text x="572.80" y="940" font-size="9.9" stroke="#000" stroke-width="0.2" textLength="51.84" lengthAdjust="spacingAndGlyphs">30 Mar 2020</text>
<text x="636.80" y="940" font-size="9.9" stroke="#000" stroke-width="0.2" textLength="45.17" lengthAdjust="spacingAndGlyphs">8 Apr 2020</text>
<text x="700.80" y="940" font-size="9.9" stroke="#000" stroke-width="0.2" textLength="50.31" lengthAdjust="spacingAndGlyphs">17 Apr 2020</text>
<text x="764.80" y="940" font-size="9.9" stroke="#000" stroke-width="0.2" textLength="50.31" lengthAdjust="spacingAndGlyphs">27 Apr 2020</text>
<text x="828.80" y="940" font-size="9.9" stroke="#000" stroke-width="0.2" textLength="48.25" lengthAdjust="spacingAndGlyphs">6 May 2020</text>
<text x="892.80" y="940" font-size="9.9" stroke="#000" stroke-width="0.2" textLength="53.38" lengthAdjust="spacingAndGlyphs">15 May 2020</text>
<text x="956.80" y="940" font-size="9.9" stroke="#000" stroke-width="0.2" textLength="53.38" lengthAdjust="spacingAndGlyphs">25 May 2020</text>
<text x="1020.80" y="940" font-size="9.9" stroke="#000" stroke-width="0.2" textLength="45.69" lengthAdjust="spacingAndGlyphs">3 Jun 2020</text>
<text x="1084.80" y="940" font-size="9.9" stroke="#000" stroke-width="0.2" textLength="50.83" lengthAdjust="spacingAndGlyphs">12 Jun 2020</text>
<text x="1148.80" y="940" font-size="9.9" stroke="#000" stroke-width="0.2" textLength="50.83" lengthAdjust="spacingAndGlyphs">22 Jun 2020</text>
<text x="1212.80" y="940" font-size="9.9" stroke="#000" stroke-width="0.2" textLength="42.61" lengthAdjust="spacingAndGlyphs">1 Jul 2020</text>
<text x="1276.80" y="940" font-size="9.9" stroke="#000" stroke-width="0.2" textLength="47.74" lengthAdjust="spacingAndGlyphs">10 Jul 2020</text>
<text x="1340.80" y="940" font-size="9.9" stroke="#000" stroke-width="0.2" textLength="47.74" lengthAdjust="spacingAndGlyphs">20 Jul 2020</text>
<text x="1404.80" y="940" font-size="9.9" stroke="#000" stroke-width="0.2" textLength="47.74" lengthAdjust="spacingAndGlyphs">29 Jul 2020</text>
<text x="12.30" y="38" font-size="9.9" fill="#000" stroke="#000" stroke-width="0.2" textLength="61.10" lengthAdjust="spacingAndGlyphs">JPN225-,Daily</text>
<text x="78.60" y="38" font-size="9.9" fill="#000" stroke="#000" stroke-width="0.2" textLength="33.50" lengthAdjust="spacingAndGlyphs">21950.0</text>
<text x="115.40" y="38" font-size="9.9" fill="#000" stroke="#000" stroke-width="0.2" textLength="32.80" lengthAdjust="spacingAndGlyphs">22377.5</text>
<text x="151.00" y="38" font-size="9.9" fill="#000" stroke="#000" stroke-width="0.2" textLength="32.80" lengthAdjust="spacingAndGlyphs">21892.5</text>
<text x="186.50" y="38" font-size="9.9" fill="#000" stroke="#000" stroke-width="0.2" textLength="33.50" lengthAdjust="spacingAndGlyphs">22367.5</text>
<polygon points="1,37.5 8.5,37.5 4.75,33" fill="#000"/>
<text x="2.10" y="594" font-size="9.9" fill="#000" stroke="#000" stroke-width="0.2" textLength="65.80" lengthAdjust="spacingAndGlyphs">MACD(12,26,9)</text>
<text x="70.30" y="594" font-size="9.9" fill="#000" stroke="#000" stroke-width="0.2" textLength="26.10" lengthAdjust="spacingAndGlyphs">-57.38</text>
<text x="99.90" y="594" font-size="9.9" fill="#000" stroke="#000" stroke-width="0.2" textLength="23.40" lengthAdjust="spacingAndGlyphs">27.23</text>
<text x="1.60" y="766" font-size="9.9" fill="#000" stroke="#000" stroke-width="0.2" textLength="32.10" lengthAdjust="spacingAndGlyphs">RSI(14)</text>
<text x="36.40" y="766" font-size="9.9" fill="#000" stroke="#000" stroke-width="0.2" textLength="33.90" lengthAdjust="spacingAndGlyphs">48.9258</text>
<polygon points="1446,27 1455,27 1450.5,32" fill="#c0c0c0"/>
<g><defs>
<linearGradient id="gTop" x1="0" y1="0" x2="0" y2="1"><stop offset="0" stop-color="#f75656"/><stop offset="1" stop-color="#e23a3a"/></linearGradient>
<linearGradient id="gBot" x1="0" y1="0" x2="0" y2="1"><stop offset="0" stop-color="#e33636"/><stop offset="0.5" stop-color="#cc1a1a"/><stop offset="1" stop-color="#b00000"/></linearGradient>
<linearGradient id="gBotU" gradientUnits="userSpaceOnUse" x1="0" y1="46.5" x2="0" y2="109.5"><stop offset="0" stop-color="#e33636"/><stop offset="0.5" stop-color="#cc1a1a"/><stop offset="1" stop-color="#b00000"/></linearGradient>
<linearGradient id="gBtn" x1="0" y1="0" x2="0" y2="1"><stop offset="0" stop-color="#f2f2f2"/><stop offset="0.45" stop-color="#e6e6e6"/><stop offset="0.5" stop-color="#d8d8d8"/><stop offset="1" stop-color="#d0d0d0"/></linearGradient>
</defs><rect x="0" y="44" width="222" height="68" fill="#fff"/><path d="M1.5,46.5 H52.5 V70.5 H109.5 V109.5 H1.5 Z" fill="url(#gBot)" stroke="#b80000" stroke-width="1"/><rect x="2" y="47" width="50" height="23" fill="url(#gTop)"/><rect x="5" y="69" width="44" height="1" fill="#8a0000"/><rect x="5" y="70" width="44" height="1" fill="#f08080"/><text x="12.6" y="62" font-size="12.5" fill="#fff" textLength="27.3" lengthAdjust="spacingAndGlyphs">SELL</text><path d="M168.5,46.5 H219.5 V109.5 H112.5 V70.5 H168.5 Z" fill="url(#gBot)" stroke="#b80000" stroke-width="1"/><rect x="169" y="47" width="50" height="23" fill="url(#gTop)"/><rect x="172" y="69" width="44" height="1" fill="#8a0000"/><rect x="172" y="70" width="44" height="1" fill="#f08080"/><text x="180.6" y="62" font-size="12.5" fill="#fff" textLength="25" lengthAdjust="spacingAndGlyphs">BUY</text><rect x="55.5" y="46.5" width="110" height="21" fill="#fff" stroke="#a7abb4" stroke-width="1"/><rect x="56" y="47" width="20" height="20" fill="url(#gBtn)"/><rect x="76" y="47" width="1" height="20" fill="#b4b4b4"/><rect x="145" y="47" width="20" height="20" fill="url(#gBtn)"/><rect x="144" y="47" width="1" height="20" fill="#b4b4b4"/><polygon points="63,55 68.5,55 65.75,58" fill="#4a5cb0"/><polygon points="152,58 157.5,58 154.75,55" fill="#4a5cb0"/><text x="116.8" y="61" font-size="12.5" fill="#000" textLength="25" lengthAdjust="spacingAndGlyphs">1.00</text><text x="16.5" y="101" font-size="13" fill="#fff" font-weight="bold" textLength="36.2" lengthAdjust="spacingAndGlyphs">22366</text><text x="53.6" y="101.2" font-size="33" fill="#fff" font-weight="bold">.</text><text x="59.9" y="101.4" font-size="35" fill="#fff" stroke="url(#gBotU)" stroke-width="0.8" textLength="23.4" lengthAdjust="spacingAndGlyphs">0</text><text x="125.9" y="101" font-size="13" fill="#fff" font-weight="bold" textLength="36.2" lengthAdjust="spacingAndGlyphs">22389</text><text x="164.7" y="101.2" font-size="33" fill="#fff" font-weight="bold">.</text><text x="170.3" y="101.4" font-size="35" fill="#fff" stroke="url(#gBotU)" stroke-width="0.8" textLength="23.4" lengthAdjust="spacingAndGlyphs">0</text></g>
</svg>
</body></html>
